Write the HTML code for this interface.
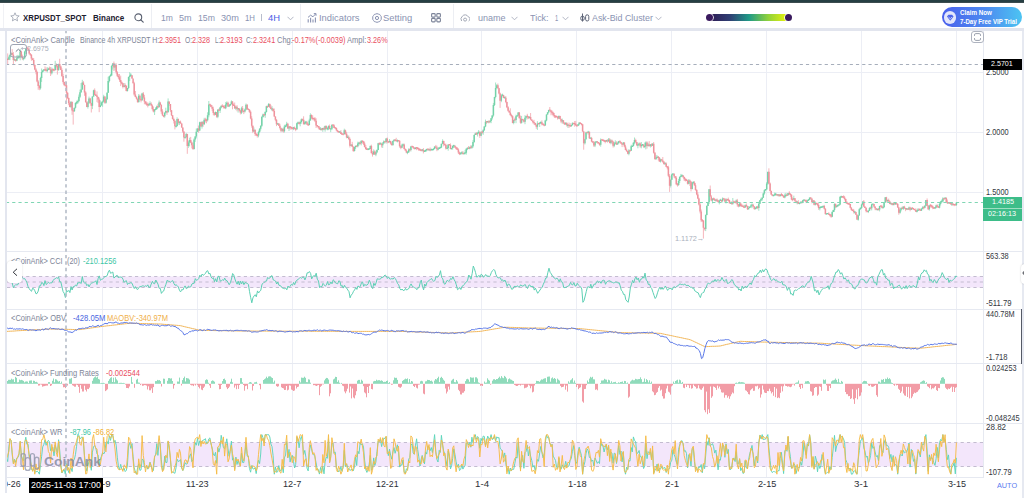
<!DOCTYPE html>
<html><head><meta charset="utf-8">
<style>
*{margin:0;padding:0;box-sizing:border-box}
html,body{width:1024px;height:498px;overflow:hidden;background:#fff;font-family:"Liberation Sans",sans-serif}
.a{position:absolute;white-space:nowrap;line-height:1}
.tb{color:#8a93b2;font-size:9.5px;top:13px}
.lg{font-size:8.6px;color:#7e8597;top:35.8px}
.rd{color:#e9505f}
.ax{font-size:8.2px;color:#333740;left:986px}
.tx{font-size:8.9px;color:#2c2f36;top:479.9px}
</style></head><body>
<div class="a" style="left:0;top:0;width:1024px;height:2px;background:#263f43"></div><div class="a" style="left:0;top:2px;width:1024px;height:1px;background:#3c4c4f"></div>
<div class="a" style="left:3px;top:4px;width:1px;height:24px;background:#f0f1f5"></div>
<div class="a" style="left:151px;top:4px;width:1px;height:24px;background:#eceef3"></div>
<div class="a" style="left:300px;top:4px;width:1px;height:24px;background:#eceef3"></div>
<div class="a" style="left:453px;top:4px;width:1px;height:24px;background:#eceef3"></div>
<div class="a" style="left:0;top:28px;width:1024px;height:3px;background:#e2e5ee"></div>

<svg width="1024" height="498" style="position:absolute;left:0;top:0">
<g stroke="#eceef5" stroke-width="1">
<path d="M102.5 31V478M197.5 31V478M292.5 31V478M387.5 31V478M481.5 31V478M576.5 31V478M671.5 31V478M766.5 31V478M861.5 31V478M956.5 31V478"/>
<path d="M7 72.5H983M7 132.5H983M7 192.5H983"/>
</g>
<g stroke="#e6e9f1" stroke-width="1">
<path d="M7 251.5H1022M7 309.5H1022M7 363.5H1022M7 423.5H1022M7 477.5H983"/>
<path d="M983.5 31V478"/>
</g>
<rect x="1022" y="31" width="2" height="467" fill="#e6e9f1"/>
<rect x="5" y="31" width="2" height="462" fill="#e3e6ef"/>
<rect x="7" y="276.5" width="976" height="11" fill="#f3e6fb"/>
<rect x="7" y="442.5" width="976" height="24" fill="#f3e6fb"/>
<g stroke="#c3bcd0" stroke-width="1" stroke-dasharray="3.2 3.2">
<path d="M7 276.5H983M7 282H983M7 287.5H983M7 442.5H983M7 466.5H983"/>
</g>
</svg>

<svg width="1024" height="498" viewBox="0 0 1024 498" style="position:absolute;left:0;top:0">
<defs><clipPath id="pc"><rect x="7" y="31" width="976" height="447"/></clipPath></defs>
<g clip-path="url(#pc)">
<path d="M6.6 57.3V60.5M8.9 55.6V59.9M10 53.8V60.2M11.1 52.1V55M14.5 58.2V60.4M16.8 55.4V61.2M17.9 54.9V59.1M19 55.1V58.5M20.2 49.2V60.3M23.5 57.9V60.4M24.7 50.7V59.3M25.8 47.8V54.2M40.5 76.8V89.6M41.6 68.5V81.9M42.7 69.8V72.7M43.9 69.4V71.4M47.3 67.2V72.4M48.4 67.7V70.1M51.8 67.5V74.5M55.2 60.8V70.7M58.6 63.6V70.8M71 101V108.1M74.4 107.6V111.8M75.5 102.4V108.5M76.6 100.6V104.4M77.8 99.7V103.9M78.9 94.5V102.2M80 89.6V98.1M81.1 83V92.9M82.3 79.8V89.8M87.9 101.3V108.6M89 96.6V103.9M92.4 96.3V109.1M93.6 89.7V96.7M100.3 100.4V107.3M101.5 101.6V105.8M102.6 100.5V106.8M103.7 94.8V102.2M106 97.8V103.6M107.1 92.3V100M108.2 76.8V92.8M109.4 75.8V82.4M110.5 73.8V76.3M111.6 64.8V75.7M112.8 64.5V69.6M115 63.4V70.3M124.1 83V87.2M127.4 87.9V91.6M128.6 76.5V89.1M129.7 72.2V81M130.8 73.1V76.7M138.7 94.1V102.2M142.1 92.8V100.8M148.9 103V106M150 101.3V104.3M154.6 109.2V115M155.7 107.1V109.8M156.8 105.5V109.8M159.1 100.5V107.3M164.7 112.2V117.7M165.8 107.7V113.7M168.1 98.4V112.4M176 125.7V127.6M177.1 117.3V126.6M179.4 121.5V125.1M185 137V139.1M186.2 132.9V138.1M188.4 140.6V147.9M189.6 137.7V146.4M194.1 138.3V149.5M195.2 136.1V141.9M196.3 128.5V138.4M197.5 128.3V132.1M199.7 121.7V131.2M202 121.1V128.6M204.2 117.8V125.1M207.6 112.3V121.5M208.8 101V117.3M215.5 111.5V115.1M217.8 109.1V118.2M220.1 106.9V113M221.2 105.1V108.4M225.7 102.1V109.2M226.8 101.4V106.5M229.1 104.8V107.1M230.2 103.8V106.1M231.4 100.4V104.2M235.9 106V110.1M238.1 108.3V112.6M241.5 106.7V114.1M244.9 108.5V112.6M246 103.5V110.3M253.9 127.4V132M258.5 130.7V137.3M259.6 128.1V133.2M260.7 125.4V130.6M261.8 115.9V126.8M263 113.6V117.7M265.2 111.2V117.8M266.4 105.8V112.6M268.6 103.1V106.9M272 106.1V111.1M277.7 122.9V124.9M282.2 127.9V131.9M284.4 124.8V132.5M285.6 124.6V127.4M286.7 121.8V126.8M289 125.9V131M293.5 126.9V130.1M296.9 122.6V129.9M298 121.5V123.9M300.2 120.7V126.3M301.4 118.5V123.7M304.8 120.7V124.5M305.9 121V124.1M309.3 118.7V125.4M310.4 113.3V120.7M320.6 127.1V130.4M322.8 127.8V131.8M325.1 125.5V131.7M327.4 127.1V130.3M328.5 125.4V130.1M330.7 128.3V132.2M331.9 124.1V130.1M339.8 131.3V132.4M344.3 128.7V134.8M347.7 135.2V138.1M351.1 144.5V145.9M354.5 146.6V151.5M355.6 145.7V149.1M357.8 141.7V147.4M359 141.9V145.5M361.2 140V145.4M368 148.9V150.2M369.1 148.6V149M370.3 145.4V149.1M373.7 149.4V154.6M375.9 151.3V156.2M377 149.3V153.1M378.2 142.9V150.2M380.4 142.3V144.3M382.7 142.1V147.9M383.8 140.3V143.6M386.1 138.3V143.5M389.5 139.1V142.4M392.9 140.5V145.9M394 139.4V141.9M397.4 139.4V142.4M401.9 143.8V148.2M403 143.5V146.3M407.5 151.1V154.2M408.7 148.3V153M410.9 145.9V151.5M415.4 147.5V149.3M422.2 149.2V151.3M424.5 150.1V151.9M425.6 149.4V151.6M426.7 148.7V151.3M429 148.6V149.8M431.3 148.5V150.1M432.4 149.3V150M433.5 148.4V150.3M434.6 146.4V149M438 147V150.4M439.2 147.5V149M440.3 147.3V148.4M441.4 143.7V148.1M442.6 139.3V144.3M447.1 145.5V149M448.2 144.4V150.7M451.6 147.8V149.5M452.7 145.3V149.6M453.8 144.7V147.8M460.6 152.3V154.7M461.8 151.3V154.3M464 152.4V154.3M465.1 149.9V154.3M466.3 148.3V154.6M467.4 147.4V150.1M469.7 146.5V149.3M471.9 145.1V148.8M473 140.1V147.7M474.2 134.6V142.8M475.3 132.6V135M477.6 131.8V136.5M478.7 130V133.4M481 131.4V136.1M483.2 129.2V134.8M484.3 126.1V130.8M485.5 119.6V127.2M487.7 120.9V122.2M490 120.1V122.4M491.1 118.1V123.2M492.2 115.1V119.7M493.4 102.9V116.7M494.5 96.8V106M495.6 82.5V98.3M496.8 84.1V89.3M501.3 94.3V102.2M502.4 93.6V96.5M504.7 96.3V97.9M513.7 119.6V124.3M516 114.7V123.2M517.1 115.5V116.6M518.2 112.1V116.4M521.6 115.9V123.6M525 115.2V124.2M526.1 115.9V119.6M529.5 116.4V118.2M537.4 121.2V129.9M539.7 122.6V127M540.8 121.8V123.7M545.3 119.8V125.7M546.5 114.4V121.3M547.6 112.2V114.7M548.7 109.7V113.1M558.9 115.4V118.9M562.3 118.6V123.7M565.7 122.3V125.1M567.9 124V127.8M571.3 124.7V126.7M572.4 122.3V125.3M578.1 124V126.1M579.2 122.5V125.4M584.9 138.8V144.5M586 131.7V139.7M588.2 130.8V134.7M590.5 137.6V138.5M595 141.6V147.1M596.1 141.3V142.7M600.7 138.4V146.7M606.3 139.9V141.7M608.6 138V141.5M610.8 139.2V144.3M614.2 141.9V147.2M615.3 140.3V144.5M617.6 141.7V144.7M618.7 140.9V143.4M623.3 142V144.7M628.9 149.1V155.3M631.2 144.7V150.8M632.3 145.9V147M633.4 142.2V146.5M634.5 137.5V144.3M637.9 143.2V148.3M639.1 142.4V145.7M641.3 142V148.3M642.5 144.2V146.1M644.7 142.5V148.1M645.8 141.4V149.4M648.1 142.8V146.6M650.4 144.3V147.5M652.6 143.1V145.9M656 154.9V159.7M657.1 155.3V158.3M660.5 158.6V162.5M665 162V164.1M670.7 179.5V187.5M671.8 173.7V179.8M672.9 173.2V175.1M678.6 178.9V185.8M679.7 176.2V183.1M680.9 173.9V177.4M682 174.2V176.8M688.8 179V184.3M692.1 182.2V189.5M693.3 181.3V183.7M705.7 214.4V231.1M706.8 205.2V215.3M708 202V206M709.1 189V204M712.5 198.1V203.4M715.9 199.6V201.7M719.3 199.8V204.4M720.4 198.8V200.4M722.6 197.4V202.4M726 198.2V203.5M730.5 201.7V203.8M732.8 198V204.8M736.2 199.5V203.6M739.6 202.7V206.8M745.2 204.4V207.6M748.6 206.1V209.5M749.7 206.3V208M750.9 204.2V207.8M752 203.4V208.2M755.4 207V209.2M756.5 206.4V208.8M758.8 201.8V210.7M759.9 200.1V204M761 197.7V201.2M762.2 197.2V200.7M763.3 192.7V197.8M764.4 189.4V194.7M765.6 189.2V190.8M766.7 182.1V189.5M767.8 172V184.8M773.5 194.8V196.1M774.6 192.6V195.6M775.7 192.8V195.7M778 194.2V196.3M780.2 194.3V196.7M784.8 193.6V198.3M785.9 192.9V196.9M788.1 193V195.6M793.8 195.7V199.7M797.2 201.2V204.4M799.4 203V204.4M800.6 201.6V203.5M802.8 199.8V203.1M804 199.2V200.5M807.3 199.8V202.3M808.5 199.4V201M809.6 197.6V200M813 200V202.4M815.3 201.3V205.5M819.8 206.8V210.4M820.9 206.4V207.5M822 206.4V207.3M823.2 205.8V207.7M826.5 213.1V214.5M827.7 213.1V214M832.2 211.2V217.2M833.3 209.7V212.2M834.5 203.2V211.8M836.7 205V207.7M837.8 204.4V206.9M839 204.4V205.5M840.1 196.5V205.2M841.2 195.6V198M854.8 211.8V213.6M858.2 215.1V220.7M859.3 208.4V215.6M860.4 207.4V209.7M861.6 203.7V209M862.7 201.3V205.2M868.3 209.9V213.1M869.5 207.2V211M871.7 203.6V210.4M872.9 204.1V204.6M877.4 208.4V210.2M879.6 205.8V211.4M883 206.2V208.4M884.1 202V207.5M885.3 197.3V202.8M887.5 199.9V202M890.9 202.3V204.3M893.2 203.1V205.5M895.4 203.7V204.5M900 209V213.7M901.1 207.2V211.4M903.3 206V210M906.7 208V209.8M909 206.6V209.9M911.3 207.5V210M916.9 209.5V212.5M918 208.1V211M921.4 208.5V210.8M922.5 206.3V209.3M924.8 205.3V208.3M925.9 200.1V206.3M929.3 204.8V210.6M935 207V209.1M936.1 204.7V208.3M939.5 202.7V208.3M940.6 200.9V205.5M941.7 199.5V202.9M942.9 197.2V201.5M945.1 197.3V199.2M948.5 202.4V203.2M951.9 202.7V206M956.4 202.2V206" stroke="#8edcb9" stroke-width="0.8" fill="none"/><path d="M7.7 53.4V64.1M12.2 49.1V55.4M13.4 52.1V64M15.6 58.9V61.7M21.3 50.7V57.3M22.4 54.6V60.1M26.9 47.1V49.5M28.1 46.7V49.9M29.2 49.2V54.6M30.3 53V56M31.4 54.1V60.8M32.6 57.7V60.3M33.7 58.1V66.4M34.8 64.5V70.2M36 68.2V74.3M37.1 70.8V82.3M38.2 80.1V89.8M39.4 85V90.2M45 66.4V70M46.1 67.4V71.9M49.5 66.6V69.5M50.6 67V76M52.9 68.1V71.4M54 69V71.3M56.3 63.3V67.5M57.4 64.4V74.6M59.7 58.8V68.3M60.8 65.7V70.1M61.9 68.3V76.9M63.1 73.7V83.7M64.2 81.6V86.1M65.3 84.7V86.6M66.5 82V100.7M67.6 92.2V99M68.7 97.5V105.2M69.8 101.2V107.3M72.1 101.4V114.8M73.2 108.1V124.6M83.4 81.1V85M84.5 84.7V95.8M85.7 91.2V102.6M86.8 101.4V107.2M90.2 97.8V103.3M91.3 102.8V112.5M94.7 88.4V94.9M95.8 93.9V95.7M97 91.4V102.1M98.1 96.6V103M99.2 97.6V112.2M104.9 96.4V103.8M113.9 61.5V71M116.2 63.3V73.7M117.3 71.1V77M118.4 74V78.9M119.5 74V81.9M120.7 75.6V86.1M121.8 81.4V84.6M122.9 82.9V88.4M125.2 83.4V88.4M126.3 85.1V91.4M132 75.3V78.7M133.1 81.6V83.4M134.2 81.8V95.8M135.4 91V97.3M136.5 96.2V99.6M137.6 98.5V102.5M139.9 94.5V100.2M141 98.8V102.4M143.3 92V98.8M144.4 94.9V104.3M145.5 101.3V104.5M146.6 101.6V105.8M147.8 102.4V107.4M151.2 102.3V106.1M152.3 104.4V110.4M153.4 106.5V112.4M157.9 103.8V108.2M160.2 101.8V105.3M161.3 104.2V113.8M162.5 109.2V115.7M163.6 115.2V117.3M167 110.5V114.9M169.2 101.6V106M170.4 104V112M171.5 110.1V116M172.6 115.2V119.6M173.8 117.7V123.5M174.9 120V129.4M178.3 118.5V124.7M180.5 120.6V123.7M181.7 123.3V127.8M182.8 127.6V132.8M183.9 131.5V141.7M187.3 133.8V153.8M190.7 136.9V143.2M191.8 141.5V148.4M193 142.8V149.9M198.6 125.5V132.8M200.9 121.7V126.5M203.1 121V126.8M205.4 117.8V122.5M206.5 118.7V123.3M209.9 103.5V105.7M211 104.6V107.3M212.2 105.3V111.1M213.3 106.7V115.3M214.4 112.1V115.7M216.7 112V117.8M218.9 108.6V110.7M222.3 104.2V106.9M223.4 105.2V108.5M224.6 105.2V108.5M228 101.7V106.9M232.5 101.1V109.3M233.6 103.4V105.3M234.7 102.5V108.6M237 105.1V111.3M239.3 108.3V111.5M240.4 109.9V114.4M242.6 106V112.5M243.8 110.4V114.1M247.2 104.2V109.6M248.3 109V109.6M249.4 109.1V112.9M250.6 110.4V119.3M251.7 116.2V127.7M252.8 125.5V133.1M255.1 129.6V135.9M256.2 133.2V136.1M257.3 133.6V137.6M264.1 113.9V116.4M267.5 106.3V108M269.8 103.5V108M270.9 105.1V109.4M273.1 107.9V111.7M274.3 108.5V116.8M275.4 116.4V121.2M276.5 119.2V126.1M278.8 123.3V126M279.9 123.8V129.5M281 127.5V132.3M283.3 127.8V132.7M287.8 122.9V128.8M290.1 126.1V129.7M291.2 126.5V129.6M292.3 127.1V129.5M294.6 126.5V129.5M295.7 128.3V131.2M299.1 121.8V124.6M302.5 119V121M303.6 116.3V124.4M307 120.8V125M308.2 123.2V125.9M311.5 114.4V119.2M312.7 115.3V120.2M313.8 118.1V120.5M314.9 117V122.1M316.1 118.3V128M317.2 125.2V126.4M318.3 125.9V128.6M319.4 126.1V129.6M321.7 128.2V130.6M324 126.7V130.1M326.2 125.3V129.3M329.6 124.5V129.4M333 124.2V127.4M334.1 124.4V128.1M335.3 127.3V128.2M336.4 127.5V131.3M337.5 129.8V132.3M338.6 130.9V132.7M340.9 130.1V134M342 133.8V135M343.2 133.7V135.4M345.4 129.6V134.8M346.6 131.8V138.3M348.8 135.5V140.1M349.9 137.6V147.5M352.2 141.8V146.9M353.3 146.2V151.9M356.7 145.6V146.8M360.1 141.5V144.6M362.4 140.6V143.6M363.5 140.9V145.1M364.6 141.6V147.5M365.8 145V149.8M366.9 148.1V149.9M371.4 144.7V153.2M372.5 151.1V156.6M374.8 150.2V154.7M379.3 142.3V145.2M381.6 142.7V147.5M385 141.3V142.1M387.2 137.5V143.4M388.3 140.8V143.1M390.6 140.7V144.5M391.7 142.1V145.7M395.1 139V140.7M396.2 137.8V141M398.5 140V141.5M399.6 140.3V147.7M400.8 145V149.2M404.2 143.6V149.4M405.3 148.4V150.6M406.4 149.3V153.3M409.8 148.4V151.1M412.1 146.1V147.3M413.2 146V148.7M414.3 147.6V149.5M416.6 147.3V150.2M417.7 147.2V149.5M418.8 147.9V151M420 148.5V150.6M421.1 149.9V151.4M423.4 148.1V153.4M427.9 148.2V150.3M430.1 147.5V151.3M435.8 144.9V147.8M436.9 145.7V151.2M443.7 140.6V146.3M444.8 144.1V145.3M445.9 143.7V149.6M449.3 144.4V145.1M450.5 143.4V149.3M455 145.4V147.6M456.1 146.6V149.5M457.2 147V150.1M458.4 148.3V154.1M459.5 151.6V155.1M462.9 151V154.6M468.5 146.1V149M470.8 145.2V148.6M476.4 132.1V135M479.8 131.3V137.9M482.1 130.9V134.1M486.6 121.1V123.9M488.9 120.2V123.4M497.9 83.5V88.5M499 87.9V94.4M500.1 92.6V107.9M503.5 94.8V98.2M505.8 96.1V103.2M506.9 101.7V108.1M508.1 106.2V111.6M509.2 110.5V112.6M510.3 108.3V115.8M511.4 113.8V117.5M512.6 115.3V123.3M514.8 117.6V120.7M519.3 112V118.5M520.5 115.6V123.7M522.7 118.7V120.4M523.9 119V122.6M527.3 113.8V119.3M528.4 116V119.1M530.6 113V120.3M531.8 119.4V121.2M532.9 120.8V123.5M534 119.8V124.6M535.2 122.7V125.4M536.3 124.5V128.8M538.5 122.9V124M541.9 120.4V125.4M543.1 123.2V125.4M544.2 124.6V126.3M549.8 107V111M551 109.8V115.3M552.1 110.5V114.7M553.2 111.7V116.4M554.4 112.9V118M555.5 115.3V118.1M556.6 115.5V117M557.7 116V119.7M560 115.8V119.4M561.1 118.6V123.2M563.4 120.1V124.1M564.5 122.3V125M566.8 122.2V126.6M569 122.5V128M570.2 123.2V126.9M573.6 123.2V124.4M574.7 121V126.7M575.8 120.9V125.6M576.9 124.7V126.4M580.3 122.4V123.8M581.5 123.4V125.4M582.6 124.2V131.7M583.7 130.9V149.7M587.1 131.8V133.1M589.4 131.5V139M591.6 136.9V142.3M592.8 141.3V143.2M593.9 141V146.9M597.3 141.3V143.6M598.4 142.3V143.4M599.5 142.6V145.7M601.8 139.5V140.1M602.9 138.9V141.1M604.1 139.7V141.9M605.2 140.3V143.3M607.4 139.2V142.7M609.7 138.1V143.4M612 139.6V144M613.1 140.8V147.5M616.5 141.3V145M619.9 140.2V142.3M621 141.8V144M622.1 143.5V147.1M624.4 142.3V147.4M625.5 144.8V150.2M626.6 148.5V151.8M627.8 150.8V154.3M630 149.9V150.9M635.7 138.7V143.4M636.8 141.9V146.1M640.2 142.6V147.7M643.6 144.4V147.8M647 141.3V148.6M649.2 141.1V146.8M651.5 143.4V146.9M653.7 142V153.6M654.9 152V159.3M658.3 156.1V160.4M659.4 157.1V161.8M661.7 158.9V161.5M662.8 157V162.8M663.9 161V164.7M666.2 162.4V167.1M667.3 166V169.4M668.4 165.8V177.2M669.6 174.1V191.9M674.1 173.3V177.8M675.2 176V178.9M676.3 176.2V185.2M677.5 183V186.6M683.1 175V178M684.2 176.6V181M685.4 177.8V181.5M686.5 178.8V180.6M687.6 179.8V184.5M689.9 179.6V186M691 181V191.4M694.4 181.1V185.9M695.5 183.1V190.7M696.7 189V195.3M697.8 192.3V199.1M698.9 197.7V205.5M700.1 203.1V213.4M701.2 209.5V222.1M702.3 219.4V222M703.4 220.2V238.6M704.6 227.7V230.5M710.2 185.5V196.4M711.3 195.1V201.3M713.6 197.6V200.2M714.7 197.9V201M717 198.4V201.9M718.1 199.9V202.7M721.5 199.7V202.1M723.8 197.9V199.6M724.9 198.4V202.1M727.2 198.7V200.2M728.3 197.6V201.2M729.4 199.7V203.3M731.7 201.2V204.8M733.9 200.5V202.3M735.1 201.7V203.4M737.3 198.9V206.7M738.5 204V207.3M740.7 202.4V206.6M741.8 204V206.9M743 204.8V207.2M744.1 205.6V208.1M746.4 203.5V206.6M747.5 205.8V210M753.1 203.9V207.1M754.3 206V209.8M757.7 205.7V209.2M768.9 168.3V184.2M770.1 182.5V191.4M771.2 190.5V194.9M772.3 194.4V196.2M776.9 194V195.5M779.1 194.2V196.9M781.4 192.9V196.2M782.5 194.1V196.4M783.6 195V197.9M787 193.8V195.8M789.3 191.2V194.9M790.4 193.2V196.8M791.5 194.4V200.2M792.7 197.4V201.2M794.9 198.1V201.7M796.1 200.5V203.2M798.3 200.1V203.9M801.7 201.2V203.1M805.1 199.9V201.1M806.2 199.5V203.1M810.7 197.1V199.5M811.9 197.8V203.3M814.1 200.4V205.3M816.4 202.9V204.4M817.5 202.8V206.3M818.6 203.1V209.8M824.3 204.9V209.6M825.4 208.2V214.7M828.8 212.2V214.8M829.9 214.5V216.5M831.1 213.7V217.8M835.6 203.4V208.2M842.4 196.5V197.9M843.5 195.4V198.3M844.6 195.9V200.4M845.7 198.5V203.3M846.9 201.2V203.7M848 202.9V204.6M849.1 202.5V204.9M850.3 203.8V208.4M851.4 207.1V210.7M852.5 209.5V211.1M853.7 208.9V213.5M855.9 211.7V214.8M857 214.3V218.6M863.8 200V207.1M864.9 206.4V208.1M866.1 207.1V212.4M867.2 210.8V212.3M870.6 206.6V209.3M874 203.8V207.6M875.1 206.6V210.2M876.2 208.2V210.2M878.5 208V210.2M880.8 205.1V207.1M881.9 204.8V208.4M886.4 196.8V202.5M888.7 198.6V201.8M889.8 200.8V204.2M892.1 202.7V205.3M894.3 202.9V205.2M896.6 202.6V204.2M897.7 203.2V207.8M898.8 206.8V214.7M902.2 206.5V209.2M904.5 205.8V208.9M905.6 208.1V211.2M907.9 208.2V210.1M910.1 206.8V211.3M912.4 207.4V209.5M913.5 208.1V209.7M914.6 209.1V210.1M915.8 208.3V211.8M919.2 208.5V210.3M920.3 208.9V211M923.7 205.9V209.4M927.1 198.4V206.1M928.2 205.3V210M930.5 204.1V207.5M931.6 204.7V207.9M932.7 205.5V209.2M933.8 207.5V208.9M937.2 204.3V207.8M938.4 206.4V208M944 198V199.7M946.3 197.5V202.6M947.4 199.5V204M949.7 202.1V203.6M950.8 203.4V204.3M953 203.6V205.6M954.2 204.3V206.2M955.3 203.6V205.2" stroke="#f2a3ab" stroke-width="0.8" fill="none"/><path d="M6.6 58.6V60M8.9 57.2V59.8M10 55V57.2M11.1 53.1V55M14.5 59.2V60.6M16.8 58.2V60.7M17.9 56.8V58.2M19 56V57.4M20.2 51.6V56.7M23.5 57.7V59.1M24.7 51.5V58.3M25.8 47.9V51.5M40.5 77.9V88.3M41.6 72V77.9M42.7 70.5V72M43.9 69.3V70.7M47.3 69.5V70.9M48.4 68.6V70M51.8 69.6V73.2M55.2 65V70.1M58.6 63.9V69.9M71 102.1V107M74.4 107.7V111.2M75.5 103V107.7M76.6 102.1V103.5M77.8 100.9V102.6M78.9 96.8V100.9M80 92.2V96.8M81.1 89.4V92.2M82.3 82.6V89.4M87.9 102.8V107.1M89 98.4V102.8M92.4 96.6V105.8M93.6 90.3V96.6M100.3 105.2V107.1M101.5 102.6V105.2M102.6 101.4V102.8M103.7 96.4V101.5M106 99V102.7M107.1 92.7V99M108.2 81V92.7M109.4 76.2V81M110.5 75.1V76.5M111.6 66V75.5M112.8 63.2V66M115 64.9V67.5M124.1 85.4V87M127.4 87.9V91M128.6 77.1V87.9M129.7 75.4V77.1M130.8 74.6V76M138.7 95.7V102.2M142.1 93.4V100.2M148.9 104V105.4M150 103.2V104.6M154.6 109.2V111.4M155.7 108.5V109.9M156.8 106.5V109.1M159.1 102.6V107.2M164.7 112.7V116.3M165.8 111.1V112.7M168.1 101.6V112.3M176 125.5V126.9M177.1 119V126M179.4 121.5V122.9M185 136.7V138.1M186.2 134V137.1M188.4 142.4V146M189.6 140V142.4M194.1 139.6V148.9M195.2 136.6V139.6M196.3 131.8V136.6M197.5 128.5V131.8M199.7 122.2V130.4M202 121.9V126.4M204.2 119.8V124.2M207.6 115.3V120.2M208.8 104.4V115.3M215.5 112.1V114.7M217.8 109.8V116.7M220.1 107.4V110.6M221.2 106V107.4M225.7 104.5V108.2M226.8 102.8V104.5M229.1 105.2V106.6M230.2 104V105.4M231.4 101.4V104.2M235.9 106.7V108.5M238.1 108.1V109.5M241.5 108.3V112.7M244.9 109.5V111.6M246 104.7V109.5M253.9 129.7V131.5M258.5 131.9V135.4M259.6 128.8V131.9M260.7 125.7V128.8M261.8 117V125.7M263 114.4V117M265.2 111.9V115.3M266.4 106.3V111.9M268.6 103.9V106.8M272 108.3V109.7M277.7 123.2V124.6M282.2 128.9V130.8M284.4 126.6V131.3M285.6 125.5V126.9M286.7 123.7V125.8M289 126.4V128.4M293.5 127.3V128.7M296.9 123.2V129.2M298 122.3V123.7M300.2 122V123.7M301.4 119.2V122M304.8 122.2V124.2M305.9 121.5V122.9M309.3 120.6V124.9M310.4 115.1V120.6M320.6 128.4V129.8M322.8 128.1V129.8M325.1 126V129.6M327.4 128V129.4M328.5 126.1V128.5M330.7 128.2V129.6M331.9 125.1V128.8M339.8 131.3V132.7M344.3 130.2V134.1M347.7 136.6V138M351.1 144.5V145.9M354.5 147.1V151.1M355.6 145.8V147.2M357.8 143.4V146.2M359 142.5V143.9M361.2 141.1V143.3M368 148.6V150M369.1 148.3V149.7M370.3 146V148.9M373.7 151.5V154.5M375.9 152.3V154.4M377 150.1V152.3M378.2 143.3V150.1M380.4 143.2V144.6M382.7 143.6V145.2M383.8 141.6V143.6M386.1 138.6V142M389.5 140.9V142.3M392.9 140.9V145.1M394 139.7V141.1M397.4 140V141.4M401.9 145.4V147.8M403 144.3V145.7M407.5 151.7V153.1M408.7 149.5V152.2M410.9 146.4V150.1M415.4 147.6V149M422.2 149.3V150.7M424.5 150.7V152.1M425.6 150V151.4M426.7 148.9V150.3M429 149V150.4M431.3 149.1V150.5M432.4 149V150.4M433.5 148.6V150M434.6 146.5V148.9M438 148.4V149.8M439.2 147.6V149M440.3 146.8V148.2M441.4 143.8V147.4M442.6 141.1V143.8M447.1 147.5V148.9M448.2 144.4V147.9M451.6 147.9V149.3M452.7 145.9V148M453.8 145.1V146.5M460.6 152.8V154.2M461.8 152.2V153.6M464 152.9V154.3M465.1 152.2V153.6M466.3 148.8V152.7M467.4 147.8V149.2M469.7 147.2V148.7M471.9 146.3V147.7M473 142V146.3M474.2 135V142M475.3 133.5V135M477.6 132.8V134.3M478.7 131.8V133.2M481 132.2V135.7M483.2 130.3V132.3M484.3 126.4V130.3M485.5 121.8V126.4M487.7 121.1V122.5M490 120.9V122.3M491.1 118.2V121M492.2 115.4V118.2M493.4 105V115.4M494.5 96.9V105M495.6 88.1V96.9M496.8 85.3V88.1M501.3 95.5V100.8M502.4 94.6V96M504.7 97.1V98.5M513.7 119.9V122.9M516 116.2V120M517.1 115.2V116.6M518.2 112.4V115.6M521.6 119.1V122.7M525 117.8V121.8M526.1 116V117.8M529.5 116.8V118.2M537.4 123.6V126.8M539.7 122.5V123.9M540.8 121.8V123.2M545.3 120.6V125.6M546.5 114.5V120.6M547.6 112.3V114.5M548.7 109.9V112.3M558.9 115.9V118.4M562.3 120.2V121.6M565.7 122.8V124.2M567.9 124.5V125.9M571.3 124.9V126.3M572.4 123.3V125.2M578.1 124.3V125.8M579.2 122.6V124.3M584.9 139.3V143.3M586 132.4V139.3M588.2 131.5V132.9M590.5 137.4V138.8M595 142.2V145.6M596.1 141.2V142.6M600.7 139.7V144.7M606.3 140.1V141.5M608.6 139.5V141.4M610.8 140.6V142.9M614.2 143.5V145.7M615.3 142.4V143.8M617.6 143.2V144.6M618.7 141.2V143.3M623.3 142.6V144.6M628.9 150.6V153.7M631.2 146.3V150.7M632.3 145.5V146.9M633.4 142.8V146.1M634.5 139.9V142.8M637.9 144.3V145.7M639.1 143.4V144.8M641.3 144.8V146.2M642.5 143.9V145.3M644.7 145.7V147.1M645.8 142.4V146.3M648.1 144.5V146M650.4 144.3V145.9M652.6 143.7V145.8M656 157.5V159.2M657.1 156.7V158.1M660.5 159.4V161.5M665 163V164.4M670.7 179.7V185.8M671.8 174.5V179.7M672.9 173.4V174.8M678.6 180.9V184.9M679.7 177V180.9M680.9 175.7V177.1M682 174.9V176.3M688.8 180.6V183.7M692.1 182.5V189M693.3 181.8V183.2M705.7 214.9V228.9M706.8 205.9V214.9M708 202.1V205.9M709.1 189.2V202.1M712.5 198.7V200.6M715.9 199.4V200.8M719.3 200.4V201.9M720.4 199.6V201M722.6 198.4V201.1M726 199.4V201.6M730.5 202.4V203.8M732.8 201.9V203.8M736.2 200.4V202.4M739.6 203.5V206.2M745.2 205.3V207.5M748.6 207.9V209.3M749.7 206.7V208.1M750.9 205.4V206.8M752 204.4V205.8M755.4 207.9V209.3M756.5 206.6V208.2M758.8 203.8V208.1M759.9 200.3V203.8M761 199V200.4M762.2 197.7V199.2M763.3 193.6V197.7M764.4 190.2V193.6M765.6 189.1V190.5M766.7 183.4V189.5M767.8 171.7V183.4M773.5 194.8V196.2M774.6 194.2V195.6M775.7 193.6V195M778 194.2V195.6M780.2 194.6V196M784.8 195.6V197.6M785.9 194.7V196.1M788.1 193V195.3M793.8 198.2V199.6M797.2 201.5V202.9M799.4 202.7V204.1M800.6 201.8V203.2M802.8 200.3V202.9M804 199.5V200.9M807.3 200.2V201.7M808.5 199.3V200.7M809.6 197.6V199.7M813 200.6V202M815.3 203.1V204.8M819.8 207V208.4M820.9 206.6V208M822 206.3V207.7M823.2 205.8V207.2M826.5 213.2V214.6M827.7 212.9V214.3M832.2 212V216.8M833.3 210V212M834.5 204.1V210M836.7 205.7V207.1M837.8 204.9V206.3M839 204.2V205.6M840.1 196.8V204.5M841.2 196.1V197.5M854.8 211.3V212.7M858.2 215.4V219.8M859.3 209.2V215.4M860.4 207.8V209.2M861.6 204.4V207.9M862.7 201.4V204.4M868.3 210.7V212.1M869.5 207.9V210.8M871.7 204.2V208.2M872.9 203.4V204.8M877.4 208.9V210.3M879.6 205.9V209.5M883 206.9V208.3M884.1 202.5V207.3M885.3 197.3V202.5M887.5 199.7V201.1M890.9 202.9V204.3M893.2 203.3V205M895.4 203V204.4M900 209.8V212.7M901.1 208.1V209.8M903.3 206.7V208.7M906.7 208.2V209.6M909 207.4V209.6M911.3 208V209.8M916.9 210.6V212M918 209.4V210.9M921.4 208.6V210.7M922.5 207.4V208.8M924.8 205.8V207.7M925.9 200.1V205.8M929.3 205.4V209.3M935 207.1V208.5M936.1 205.6V207.4M939.5 204V207.7M940.6 201.5V204M941.7 200.8V202.2M942.9 198.4V201.5M945.1 197.6V199M948.5 202.2V203.6M951.9 203.3V204.7M956.4 202.8V205.1" stroke="#74d2a9" stroke-width="1.5" fill="none"/><path d="M7.7 58.7V60.1M12.2 53.1V54.7M13.4 54.7V59.9M15.6 59.6V61M21.3 51.6V57M22.4 57V58.5M26.9 47.5V48.9M28.1 48.4V49.8M29.2 49.8V53.5M30.3 53.4V54.8M31.4 54.8V58.5M32.6 58.5V59.9M33.7 59.9V65M34.8 65V69.6M36 69.6V72M37.1 72V81.6M38.2 81.6V85.9M39.4 85.9V88.3M45 69V70.4M46.1 69.5V70.9M49.5 68.3V69.7M50.6 69.3V73.2M52.9 69V70.4M54 69.3V70.7M56.3 64.9V66.3M57.4 66.1V69.9M59.7 63.9V66.4M60.8 66.4V70.1M61.9 70.1V76M63.1 76V82.1M64.2 82.1V85.1M65.3 84.4V85.8M66.5 85.2V92.8M67.6 92.8V97.9M68.7 97.9V103.2M69.8 103.2V107M72.1 102.1V110.5M73.2 110.2V111.6M83.4 82.6V85M84.5 85V92.4M85.7 92.4V102.3M86.8 102.3V107.1M90.2 98.4V103.3M91.3 103.3V105.8M94.7 90.3V94.9M95.8 94.5V95.9M97 95.4V97M98.1 97V99.5M99.2 99.5V107.1M104.9 96.4V102.7M113.9 63.2V67.5M116.2 64.9V72.2M117.3 72.2V75.7M118.4 75.7V77.3M119.5 77.3V80.1M120.7 80.1V82.6M121.8 82.3V83.7M122.9 83.3V87M125.2 85V86.4M126.3 86.1V91M132 75.3V78.6M133.1 78.6V83.2M134.2 83.2V94.6M135.4 94.6V97M136.5 97V98.7M137.6 98.7V102.2M139.9 95.7V99.2M141 99V100.4M143.3 93.4V97.5M144.4 97.5V101.4M145.5 101.4V103.5M146.6 103.3V104.7M147.8 104.1V105.5M151.2 103.7V105.5M152.3 105.5V109M153.4 109V111.4M157.9 106.1V107.5M160.2 102.6V104.9M161.3 104.9V111.6M162.5 111.6V115.6M163.6 115.3V116.7M167 111V112.4M169.2 101.6V104.1M170.4 104.1V110.2M171.5 110.2V115.3M172.6 115.3V119.1M173.8 119.1V121.1M174.9 121.1V126.3M178.3 119V122.7M180.5 121.8V123.5M181.7 123.5V127.6M182.8 127.6V131.6M183.9 131.6V137.6M187.3 134V146M190.7 140V142.6M191.8 142.6V145.3M193 145.3V148.9M198.6 128.5V130.4M200.9 122.2V126.4M203.1 121.9V124.2M205.4 119.3V120.7M206.5 119.5V120.9M209.9 104V105.4M211 105V107M212.2 107V108.7M213.3 108.7V113M214.4 113V114.7M216.7 112.1V116.7M218.9 109.5V110.9M222.3 105.5V106.9M223.4 105.9V107.3M224.6 106.8V108.2M228 102.8V106.6M232.5 101.4V105.2M233.6 104.5V105.9M234.7 105.2V108.5M237 106.7V109M239.3 108.5V110.5M240.4 110.5V112.7M242.6 108.3V111.2M243.8 110.7V112.1M247.2 104.7V109.2M248.3 108.6V110M249.4 109.4V111.8M250.6 111.8V118.4M251.7 118.4V125.7M252.8 125.7V131.5M255.1 129.7V133.9M256.2 133.8V135.2M257.3 134.5V135.9M264.1 114.1V115.5M267.5 105.8V107.2M269.8 103.9V107.3M270.9 107.3V109M273.1 108.9V110.9M274.3 110.9V116.5M275.4 116.5V119.8M276.5 119.8V124.3M278.8 123.6V125.7M279.9 125.7V128.1M281 128.1V130.8M283.3 128.9V131.3M287.8 123.7V128.4M290.1 126.3V127.7M291.2 127.1V128.5M292.3 127.5V128.9M294.6 127.5V128.9M295.7 128.3V129.7M299.1 122.6V124M302.5 118.8V120.2M303.6 119.8V124.2M307 122.2V124.5M308.2 124V125.4M311.5 115.1V117.8M312.7 117.5V118.9M313.8 117.9V119.3M314.9 118.6V120.8M316.1 120.8V125.5M317.2 125.1V126.5M318.3 126V127.4M319.4 127.4V129.5M321.7 128.6V130M324 128.1V129.6M326.2 126V128.8M329.6 126.1V129.1M333 124.5V125.9M334.1 125.4V127.9M335.3 127.3V128.7M336.4 128.1V130.3M337.5 130.2V131.6M338.6 131.1V132.5M340.9 131.9V133.9M342 133.3V134.7M343.2 133.4V134.8M345.4 130.2V133.8M346.6 133.8V137.4M348.8 137.2V139M349.9 139V145.8M352.2 144.6V146.7M353.3 146.7V151.1M356.7 145.4V146.8M360.1 142.5V143.9M362.4 140.6V142M363.5 141.5V143.4M364.6 143.4V147.1M365.8 147.1V148.9M366.9 148.6V150M371.4 146V153.2M372.5 153.1V154.5M374.8 151.5V154.4M379.3 143V144.4M381.6 143.7V145.2M385 141.1V142.5M387.2 138.6V141.6M388.3 141.2V142.6M390.6 141V143.4M391.7 143.4V145.1M395.1 139.6V141M396.2 140.1V141.5M398.5 139.9V141.3M399.6 140.7V146.3M400.8 146.3V147.8M404.2 144.5V149.1M405.3 149.1V150.6M406.4 150.6V152.6M409.8 149.1V150.5M412.1 145.8V147.2M413.2 146.4V147.8M414.3 147.6V149M416.6 147V148.4M417.7 147.5V148.9M418.8 148.3V149.7M420 149.1V150.5M421.1 149.6V151M423.4 149.7V151.4M427.9 148.8V150.2M430.1 149.1V150.5M435.8 146.4V147.8M436.9 147.8V149.2M443.7 141.1V144.2M444.8 143.8V145.2M445.9 144.9V148.4M449.3 144V145.4M450.5 145V149.1M455 145.8V147.6M456.1 147.3V148.7M457.2 148.3V149.7M458.4 149.5V152.6M459.5 152.6V154M462.9 152.7V154.1M468.5 147.7V149.1M470.8 146.7V148.1M476.4 133.2V134.6M479.8 132.2V135.7M482.1 131.6V133M486.6 121.1V122.5M488.9 121.2V122.6M497.9 85.3V88.2M499 88.2V93.5M500.1 93.5V100.8M503.5 95V97.9M505.8 97.7V101.9M506.9 101.9V107.2M508.1 107.2V110.8M509.2 110.8V112.5M510.3 112.5V114.9M511.4 114.9V116.3M512.6 116.3V122.9M514.8 119.2V120.6M519.3 112.4V118.3M520.5 118.3V122.7M522.7 118.9V120.3M523.9 120.1V121.8M527.3 115.6V117M528.4 116.6V118M530.6 117.1V119.4M531.8 119.4V120.8M532.9 120.8V122.2M534 121.9V123.3M535.2 122.9V125M536.3 125V126.8M538.5 123V124.4M541.9 122.3V124.2M543.1 123.7V125.1M544.2 124.4V125.8M549.8 109.4V110.8M551 110.4V112.3M552.1 111.8V113.2M553.2 112.7V115.3M554.4 115.1V116.5M555.5 115.7V117.1M556.6 116V117.4M557.7 116.7V118.4M560 115.9V119M561.1 119V121.6M563.4 120.2V122.8M564.5 122.8V124.2M566.8 122.9V125.3M569 124.7V126.1M570.2 125.1V126.5M573.6 122.7V124.1M574.7 123V124.4M575.8 123.8V125.5M576.9 125V126.4M580.3 122.5V123.9M581.5 123.3V124.7M582.6 124.3V131.6M583.7 131.6V143.3M587.1 131.9V133.3M589.4 131.7V138.2M591.6 138V141.4M592.8 141.2V142.6M593.9 142.4V145.6M597.3 141.2V142.6M598.4 142V143.4M599.5 143V144.7M601.8 139.2V140.6M602.9 139.5V140.9M604.1 140.1V141.5M605.2 140.5V141.9M607.4 140.2V141.6M609.7 139.5V142.9M612 140.5V141.9M613.1 141.7V145.7M616.5 142.8V144.5M619.9 140.9V142.3M621 142.1V143.5M622.1 143.3V144.7M624.4 142.6V146.6M625.5 146.6V150M626.6 149.8V151.2M627.8 151V153.7M630 150V151.4M635.7 139.9V142M636.8 142V145.3M640.2 143.6V146.2M643.6 144.5V146.5M647 142.4V146M649.2 144.5V145.9M651.5 144.3V145.8M653.7 143.7V152.8M654.9 152.8V159.2M658.3 156.6V158M659.4 157.4V161.5M661.7 159.2V160.6M662.8 160.4V161.8M663.9 161.8V163.9M666.2 163.6V166.7M667.3 166.3V167.7M668.4 167.3V175.8M669.6 175.8V185.8M674.1 173.7V176.3M675.2 176.3V177.8M676.3 177.8V184.2M677.5 183.8V185.2M683.1 175.4V177M684.2 177V179.2M685.4 179V180.4M686.5 179.6V181M687.6 180.5V183.7M689.9 180.5V181.9M691 181.7V189M694.4 182.4V185.3M695.5 185.3V189.9M696.7 189.9V194.6M697.8 194.6V198.5M698.9 198.5V204.4M700.1 204.4V211.6M701.2 211.6V220.2M702.3 219.6V221M703.4 220.4V227.8M704.6 227.7V229.1M710.2 189.2V196.4M711.3 196.4V200.6M713.6 198.3V199.7M714.7 199.2V200.6M717 199.6V201M718.1 200.6V202M721.5 199.9V201.3M723.8 198.2V199.6M724.9 199.3V201.6M727.2 199V200.4M728.3 199.3V200.7M729.4 200.1V203.2M731.7 202.7V204.1M733.9 201.3V202.7M735.1 201.6V203M737.3 200.4V204.6M738.5 204.6V206.2M740.7 203.5V205.9M741.8 205.2V206.6M743 205.7V207.1M744.1 206.6V208M746.4 205.1V206.5M747.5 206.2V209.3M753.1 204.7V206.4M754.3 206.4V209.1M757.7 206.6V208.1M768.9 171.7V183.5M770.1 183.5V190.9M771.2 190.9V194.5M772.3 194.4V195.8M776.9 194.1V195.5M779.1 194.4V196M781.4 194.1V195.5M782.5 194.7V196.1M783.6 196V197.6M787 194.5V195.9M789.3 192.8V194.2M790.4 193.7V195.1M791.5 194.8V199.4M792.7 198.8V200.2M794.9 198.2V200.7M796.1 200.7V202.5M798.3 201.9V203.8M801.7 201.8V203.2M805.1 199.8V201.2M806.2 200.6V202M810.7 197.4V198.8M811.9 198.7V201.9M814.1 200.6V204.8M816.4 202.8V204.2M817.5 203.7V205.1M818.6 205V208M824.3 206V208.7M825.4 208.7V214.1M828.8 213.4V214.8M829.9 214.1V215.5M831.1 214.8V216.8M835.6 204.1V206.8M842.4 196.1V197.5M843.5 196.4V197.8M844.6 197.4V199.1M845.7 199.1V202.7M846.9 202.3V203.7M848 202.9V204.3M849.1 203.3V204.7M850.3 204.1V207.7M851.4 207.7V210M852.5 209.6V211M853.7 210.6V212M855.9 211.9V214.7M857 214.7V219.8M863.8 201.4V206.4M864.9 206.4V208M866.1 208V210.9M867.2 210.7V212.1M870.6 207.4V208.8M874 204.1V206.6M875.1 206.6V208.3M876.2 208.3V209.8M878.5 208.8V210.2M880.8 205.4V206.8M881.9 206.3V207.8M886.4 197.3V200.7M888.7 200V201.5M889.8 201.5V204M892.1 203.2V205M894.3 202.8V204.2M896.6 203.2V204.6M897.7 204.1V207.4M898.8 207.4V212.7M902.2 207.7V209.1M904.5 206.7V208.3M905.6 208.1V209.5M907.9 208.4V209.8M910.1 207.4V209.8M912.4 207.5V208.9M913.5 208.1V209.5M914.6 208.9V210.3M915.8 210V211.7M919.2 208.8V210.2M920.3 209.4V210.8M923.7 206.9V208.3M927.1 200.1V205.8M928.2 205.8V209.3M930.5 204.8V206.2M931.6 205.3V206.7M932.7 206.3V207.8M933.8 207.3V208.7M937.2 205.3V206.7M938.4 206.3V207.7M944 198V199.4M946.3 197.7V202M947.4 201.8V203.2M949.7 202.3V203.7M950.8 203.1V204.5M953 203.5V204.9M954.2 203.9V205.3M955.3 204.2V205.6" stroke="#ef939d" stroke-width="1.5" fill="none"/>
<polyline points="6.6,276.2 7.7,279.2 8.9,277.4 10,281.4 11.1,281.3 12.2,283 13.4,287.7 14.5,285.8 15.6,284.7 16.8,284.9 17.9,284.7 19,281.6 20.2,281 21.3,277.3 22.4,277.6 23.5,278.7 24.7,278.6 25.8,280.4 26.9,282.5 28.1,286.8 29.2,288.6 30.3,290.2 31.5,291.3 32.6,288.2 33.7,288.8 34.8,290.7 36,293.8 37.1,293.4 38.2,291.1 39.4,285.8 40.5,285.9 41.6,282.7 42.8,282.9 43.9,285.6 45,280.6 46.2,284.5 47.3,283.6 48.4,282.4 49.5,283.2 50.7,282.8 51.8,282.9 52.9,280.5 54.1,279.4 55.2,278.8 56.3,277.7 57.5,278.4 58.6,276.8 59.7,281.8 60.8,281.8 62,287 63.1,291.6 64.2,293.2 65.4,297.5 66.5,290.1 67.6,291.7 68.8,290.4 69.9,292.6 71,286.6 72.1,290 73.3,286.6 74.4,286.5 75.5,285 76.7,285.9 77.8,282.6 78.9,283 80,282.5 81.2,283.5 82.3,276.5 83.4,282 84.6,283 85.7,282.8 86.8,285.7 88,284.4 89.1,286.9 90.2,284.4 91.3,283.3 92.5,282.8 93.6,282.3 94.7,282 95.9,280.7 97,284.5 98.1,278.6 99.3,275.9 100.4,280.3 101.5,279.4 102.6,279.2 103.8,277.5 104.9,276.7 106,276.4 107.2,275.6 108.3,271.9 109.4,270.2 110.6,273.3 111.7,272.7 112.8,272 113.9,278 115.1,277.1 116.2,275.7 117.3,275.4 118.5,278 119.6,276.9 120.7,277.1 121.9,277.3 123,279.3 124.1,282.4 125.2,281.2 126.4,280.7 127.5,284.5 128.6,283.4 129.8,283.3 130.9,282.6 132,283.2 133.2,286.2 134.3,288.5 135.4,286.6 136.5,288.9 137.7,289.5 138.8,287.6 139.9,286.7 141.1,286.6 142.2,285.9 143.3,285.9 144.5,286.4 145.6,285.8 146.7,286.4 147.8,284.8 149,287.5 150.1,287 151.2,284.1 152.4,281.3 153.5,283.4 154.6,283.8 155.8,280 156.9,282 158,284.2 159.1,288.2 160.3,288.4 161.4,293.4 162.5,291.7 163.7,291 164.8,287.2 165.9,284.4 167.1,280.3 168.2,281.1 169.3,281.3 170.4,282.2 171.6,281.3 172.7,280.6 173.8,283.3 175,285.3 176.1,284.8 177.2,285.6 178.4,287 179.5,290.5 180.6,291.9 181.7,289.5 182.9,290 184,287.5 185.1,285.9 186.3,288.7 187.4,288.1 188.5,286 189.7,287.1 190.8,286.8 191.9,284 193,283.4 194.2,283.3 195.3,278.6 196.4,280.3 197.6,279.8 198.7,278.6 199.8,275.2 201,276.6 202.1,274.1 203.2,275.3 204.3,274.6 205.5,273.3 206.6,271.2 207.7,270.7 208.9,274 210,273.3 211.1,277 212.3,278.5 213.4,277.7 214.5,281.7 215.6,278.7 216.8,281.9 217.9,276.4 219,276.3 220.2,281.1 221.3,280.8 222.4,279.8 223.6,280.4 224.7,278.1 225.8,280.4 226.9,280.6 228.1,282.5 229.2,284.7 230.3,282.8 231.5,279.1 232.6,273.5 233.7,274.7 234.9,279 236,282 237.1,284.2 238.2,281.2 239.4,285 240.5,281 241.6,283.9 242.8,281.3 243.9,284.7 245,282.6 246.2,283 247.3,283.4 248.4,284.4 249.5,291.4 250.7,297.7 251.8,302.8 252.9,297.9 254.1,295.9 255.2,294.7 256.3,296.8 257.5,290.9 258.6,293 259.7,291.3 260.8,290.3 262,284.2 263.1,283.4 264.2,282.3 265.4,281.3 266.5,281.1 267.6,277.4 268.8,278.5 269.9,278 271,276 272.1,275.8 273.3,280 274.4,280.4 275.5,281 276.7,284 277.8,282 278.9,285.2 280.1,285.6 281.2,286.3 282.3,288 283.4,288.4 284.6,288.7 285.7,288.1 286.8,289.8 288,286.1 289.1,287.4 290.2,286.2 291.4,284.3 292.5,285.3 293.6,282.4 294.7,284.7 295.9,281.3 297,280.1 298.1,279.4 299.3,278.3 300.4,277.5 301.5,278.2 302.7,277.4 303.8,277.1 304.9,279.9 306,277.2 307.2,272.8 308.3,272.9 309.4,271.5 310.6,273.4 311.7,278.9 312.8,276.4 314,275.7 315.1,276.2 316.2,273.2 317.3,279.2 318.5,281 319.6,287.7 320.7,286.4 321.9,286.7 323,283.4 324.1,284.7 325.3,286.1 326.4,285.1 327.5,281.6 328.6,284.9 329.8,284.3 330.9,281.9 332,283.8 333.2,279.8 334.3,280.8 335.4,282.8 336.6,283.5 337.7,283.8 338.8,280.8 339.9,281.4 341.1,286.2 342.2,285.4 343.3,288.1 344.5,285.3 345.6,287.4 346.7,288.1 347.9,290.1 349,291.7 350.1,297.8 351.2,295.1 352.4,293.8 353.5,291.3 354.6,289.9 355.8,287.4 356.9,289.4 358,285.9 359.2,287 360.3,286.5 361.4,283 362.5,281.8 363.7,286.3 364.8,284.3 365.9,285.3 367.1,285 368.2,283.8 369.3,280.2 370.5,282.8 371.6,287.5 372.7,288.6 373.8,283.2 375,285.5 376.1,282.8 377.2,278.8 378.4,279.1 379.5,279.2 380.6,278.9 381.8,276.9 382.9,277.6 384,276 385.1,275 386.3,276 387.4,278.5 388.5,276.8 389.7,278.9 390.8,279.1 391.9,278.5 393.1,279.1 394.2,277.5 395.3,278.5 396.4,280.6 397.6,283.6 398.7,284.8 399.8,288.5 401,290.1 402.1,289 403.2,290.5 404.4,290.3 405.5,288.4 406.6,290.2 407.7,289 408.9,288.6 410,285.7 411.1,283.9 412.3,286.4 413.4,286.7 414.5,287.8 415.7,288 416.8,289.7 417.9,288.2 419,287.4 420.2,282.8 421.3,280.1 422.4,286.2 423.6,289.9 424.7,284 425.8,286.2 427,282.3 428.1,281.2 429.2,280.3 430.3,279.6 431.5,278.4 432.6,280.4 433.7,281.3 434.9,280.5 436,276.3 437.1,277.6 438.3,276.2 439.4,274.9 440.5,270.7 441.6,277.3 442.8,278.9 443.9,283.4 445,284.3 446.2,282.2 447.3,280.2 448.4,281.3 449.6,280.6 450.7,278.3 451.8,279.4 452.9,276.6 454.1,279.5 455.2,281.6 456.3,284.7 457.5,289.7 458.6,289 459.7,287.4 460.9,289.5 462,286.3 463.1,285.8 464.2,284.6 465.4,282.7 466.5,282.1 467.6,280.2 468.8,275 469.9,276.8 471,279.2 472.2,273.4 473.3,266 474.4,268.7 475.5,272.4 476.7,277.1 477.8,276.7 478.9,275.3 480.1,277.3 481.2,274.2 482.3,275 483.5,277.3 484.6,276.1 485.7,274.5 486.8,276.3 488,275.8 489.1,276.7 490.2,275.6 491.4,272.4 492.5,270.6 493.6,269.6 494.8,270.3 495.9,274.5 497,276.6 498.1,278 499.3,277.7 500.4,277.9 501.5,280.5 502.7,279.8 503.8,281.6 504.9,280 506.1,282.8 507.2,286.4 508.3,284 509.4,284.4 510.6,286.8 511.7,289.3 512.8,289 514,286.5 515.1,286.3 516.2,286.8 517.4,285.7 518.5,287.1 519.6,286.6 520.7,284.8 521.9,285.9 523,286.2 524.1,285.2 525.3,284.6 526.4,287.3 527.5,288.5 528.7,285.3 529.8,284.9 530.9,286.8 532,286.4 533.2,286.4 534.3,290.1 535.4,288.1 536.6,290.9 537.7,293.3 538.8,291.7 540,290 541.1,288.4 542.2,287.2 543.3,284.3 544.5,281.7 545.6,278.1 546.7,278 547.9,272.3 549,268.2 550.1,272.3 551.3,273.9 552.4,276 553.5,276.9 554.6,278.4 555.8,279.1 556.9,278.1 558,279.2 559.2,281.7 560.3,278.8 561.4,282 562.6,282.3 563.7,287.5 564.8,287.6 565.9,287.3 567.1,286.7 568.2,286 569.3,285.5 570.5,282.4 571.6,284.5 572.7,285 573.9,282.5 575,285.9 576.1,286 577.2,283.2 578.4,285.1 579.5,286.2 580.6,286.8 581.8,289 582.9,302.3 584,300.6 585.2,296 586.3,291.4 587.4,287.1 588.5,286.7 589.7,288 590.8,284.2 591.9,288.3 593.1,286 594.2,284 595.3,284.5 596.5,281.9 597.6,280.9 598.7,282.7 599.8,281.4 601,283.3 602.1,280.9 603.2,280.2 604.4,280.5 605.5,284.3 606.6,282 607.8,281.3 608.9,280.9 610,280.9 611.1,281.8 612.3,282.3 613.4,282.9 614.5,282.6 615.7,282 616.8,282.1 617.9,283.2 619.1,282.6 620.2,285.9 621.3,290.2 622.4,291.3 623.6,294.5 624.7,294.4 625.8,299.7 627,301.1 628.1,302.3 629.2,297 630.4,287.6 631.5,284.2 632.6,280.4 633.7,282.9 634.9,278.8 636,277 637.1,279.8 638.3,278 639.4,282.3 640.5,279.3 641.7,279.1 642.8,276.8 643.9,278.2 645,273.1 646.2,280.1 647.3,281 648.4,284.6 649.6,284.2 650.7,287.4 651.8,288.7 653,292.4 654.1,295.6 655.2,298.5 656.3,296.9 657.5,292.8 658.6,289.6 659.7,287.3 660.9,289.4 662,287.6 663.1,289.4 664.3,287.7 665.4,286 666.5,288.4 667.6,290.4 668.8,288.5 669.9,288.6 671,288.2 672.2,289.9 673.3,287.2 674.4,286.8 675.6,287.7 676.7,286.3 677.8,286 678.9,284.5 680.1,283.9 681.2,284.6 682.3,284.3 683.5,285.1 684.6,283.8 685.7,285.2 686.9,285.6 688,285.2 689.1,286.1 690.2,287.2 691.4,287.2 692.5,288.2 693.6,287.9 694.8,290.9 695.9,291.5 697,292.4 698.2,292.8 699.3,295.5 700.4,297.6 701.5,293.9 702.7,292.7 703.8,292.4 704.9,289.1 706.1,287.8 707.2,284.6 708.3,283 709.5,283.7 710.6,283.1 711.7,282.1 712.8,280.7 714,281.6 715.1,279.3 716.2,281.6 717.4,279.8 718.5,280 719.6,280.8 720.8,280.3 721.9,277.4 723,279.7 724.1,281.4 725.3,280.3 726.4,279.4 727.5,283.5 728.7,283.1 729.8,282.4 730.9,280.6 732.1,279.5 733.2,281.4 734.3,284.7 735.4,285.3 736.6,287.1 737.7,287 738.8,290 740,289 741.1,291 742.2,286.1 743.4,288.6 744.5,287.2 745.6,286 746.7,287.8 747.9,285.8 749,284.4 750.1,283 751.3,284.6 752.4,281.3 753.5,279.4 754.7,275.6 755.8,276.8 756.9,274.9 758,273.1 759.2,272.8 760.3,270 761.4,272.6 762.6,269.6 763.7,271.9 764.8,269.6 766,268.9 767.1,270.1 768.2,273.6 769.3,275.5 770.5,279.2 771.6,280.6 772.7,279.7 773.9,278.6 775,280.5 776.1,279.8 777.3,280.7 778.4,282 779.5,282.2 780.6,282.5 781.8,281.3 782.9,284.8 784,284.8 785.2,285.2 786.3,286.8 787.4,290.4 788.6,287.7 789.7,289 790.8,294.1 791.9,293.7 793.1,295.4 794.2,290.7 795.3,290 796.5,290.4 797.6,289.6 798.7,288.5 799.9,288.1 801,286.9 802.1,286 803.2,285.9 804.4,287.5 805.5,285.8 806.6,283.5 807.8,282.5 808.9,281.7 810,280.8 811.2,276.3 812.3,280 813.4,284.1 814.5,290.8 815.7,289.8 816.8,292.6 817.9,290.2 819.1,294.9 820.2,292.5 821.3,290.6 822.5,288.9 823.6,288.1 824.7,288.1 825.8,287.8 827,287.1 828.1,285.7 829.2,289.4 830.4,285.2 831.5,283 832.6,282.2 833.8,278.1 834.9,275 836,272 837.1,272.1 838.3,269.5 839.4,271.2 840.5,274.2 841.7,272.7 842.8,275.6 843.9,279.1 845.1,277.8 846.2,279.6 847.3,281.2 848.4,279.8 849.6,283.3 850.7,283.5 851.8,284.3 853,287 854.1,288.7 855.2,288.9 856.4,286.1 857.5,285.9 858.6,283.8 859.7,280.5 860.9,279.5 862,278.8 863.1,279.7 864.3,279.9 865.4,282.4 866.5,283.1 867.7,281.9 868.8,279.4 869.9,277.7 871,277.3 872.2,276.5 873.3,279.4 874.4,282.9 875.6,282.2 876.7,285.2 877.8,276.6 879,274.3 880.1,271.9 881.2,269.8 882.3,269.7 883.5,275.1 884.6,273.5 885.7,278.2 886.9,278.4 888,280.4 889.1,279.9 890.3,285.5 891.4,283.4 892.5,283.7 893.6,288.8 894.8,287 895.9,287.6 897,286.8 898.2,285.8 899.3,285 900.4,286.8 901.6,289.2 902.7,287.6 903.8,286.8 904.9,288.5 906.1,285.6 907.2,288.6 908.3,286.6 909.5,285.3 910.6,287.2 911.7,286.9 912.9,285.5 914,286.2 915.1,287.1 916.2,287.5 917.4,283.1 918.5,277.1 919.6,280 920.8,274.6 921.9,272.9 923,272.5 924.2,269.8 925.3,271.3 926.4,270.4 927.5,274.1 928.7,274.8 929.8,280.9 930.9,279.3 932.1,281.7 933.2,282.6 934.3,279.5 935.5,281.4 936.6,283.2 937.7,281.1 938.8,278.7 940,278 941.1,275.9 942.2,272.6 943.4,274.9 944.5,277.8 945.6,278.9 946.8,279.6 947.9,278.1 949,282.4 950.1,280 951.3,281 952.4,280.4 953.5,279.4 954.7,278.4 955.8,276 956.9,276.6" fill="none" stroke="#5dd0b4" stroke-width="1"/>
<polyline points="6.6,331.4 8.6,331.3 10.6,331.2 12.6,331.1 14.6,331 16.6,330.8 18.6,330.7 20.6,330.6 22.6,330.5 24.6,330.4 26.6,330.3 28.6,330.2 30.6,330.1 32.6,330 34.6,329.8 36.6,329.7 38.6,329.6 40.6,329.5 42.6,329.4 44.6,329.3 46.6,329.2 48.6,329.1 50.6,329 52.6,329.1 54.6,329.1 56.6,329.1 58.6,329.2 60.6,329.2 62.6,329.3 64.6,329.3 66.6,329.3 68.6,329.4 70.6,329.4 72.6,329.5 74.6,329.5 76.6,329.5 78.6,329.6 80.6,329.5 82.6,329.2 84.6,328.9 86.6,328.6 88.6,328.4 90.6,328.1 92.6,327.8 94.6,327.5 96.6,327.2 98.6,326.9 100.6,326.6 102.6,326.4 104.6,326.2 106.6,325.9 108.6,325.7 110.6,325.5 112.6,325.2 114.6,325 116.6,324.8 118.6,324.5 120.6,324.3 122.6,324.1 124.6,323.8 126.6,323.6 128.6,323.4 130.6,323.2 132.6,323.3 134.6,323.3 136.6,323.4 138.6,323.4 140.6,323.5 142.6,323.5 144.6,323.6 146.6,323.6 148.6,323.7 150.6,323.7 152.6,323.8 154.6,323.9 156.6,323.9 158.6,324 160.6,324 162.6,324.2 164.6,324.4 166.6,324.5 168.6,324.7 170.6,324.8 172.6,325 174.6,325.2 176.6,325.3 178.6,325.5 180.6,325.7 182.6,326.2 184.6,326.7 186.6,327.2 188.6,327.6 190.6,328.1 192.6,328.6 194.6,329 196.6,329.5 198.6,330 200.6,330.3 202.6,330.3 204.6,330.4 206.6,330.4 208.6,330.5 210.6,330.5 212.6,330.5 214.6,330.6 216.6,330.6 218.6,330.6 220.6,330.7 222.6,330.7 224.6,330.7 226.6,330.8 228.6,330.8 230.6,330.8 232.6,330.9 234.6,330.9 236.6,330.9 238.6,331 240.6,331 242.6,331 244.6,331 246.6,331 248.6,331 250.6,331 252.6,331 254.6,331.1 256.6,331.1 258.6,331.1 260.6,331.1 262.6,331.1 264.6,331.1 266.6,331.1 268.6,331.1 270.6,331.1 272.6,331.1 274.6,331.1 276.6,331.1 278.6,331.1 280.6,331.1 282.6,331.2 284.6,331.2 286.6,331.2 288.6,331.2 290.6,331.2 292.6,331.2 294.6,331.2 296.6,331.2 298.6,331.2 300.6,331.2 302.6,331.2 304.6,331.2 306.6,331.2 308.6,331.2 310.6,331.3 312.6,331.3 314.6,331.3 316.6,331.3 318.6,331.3 320.6,331.3 322.6,331.3 324.6,331.3 326.6,331.3 328.6,331.3 330.6,331.3 332.6,331.3 334.6,331.3 336.6,331.4 338.6,331.4 340.6,331.4 342.6,331.4 344.6,331.4 346.6,331.4 348.6,331.4 350.6,331.4 352.6,331.4 354.6,331.4 356.6,331.4 358.6,331.4 360.6,331.4 362.6,331.4 364.6,331.4 366.6,331.4 368.6,331.4 370.6,331.4 372.6,331.4 374.6,331.4 376.6,331.4 378.6,331.4 380.6,331.4 382.6,331.4 384.6,331.4 386.6,331.4 388.6,331.4 390.6,331.4 392.6,331.4 394.6,331.4 396.6,331.4 398.6,331.4 400.6,331.4 402.6,331.5 404.6,331.5 406.6,331.6 408.6,331.7 410.6,331.7 412.6,331.8 414.6,331.9 416.6,331.9 418.6,332 420.6,332.1 422.6,332.1 424.6,332.2 426.6,332.3 428.6,332.3 430.6,332.4 432.6,332.4 434.6,332.5 436.6,332.6 438.6,332.6 440.6,332.7 442.6,332.8 444.6,332.8 446.6,332.9 448.6,333 450.6,333 452.6,332.9 454.6,332.8 456.6,332.6 458.6,332.5 460.6,332.4 462.6,332.3 464.6,332.2 466.6,332.1 468.6,332 470.6,331.9 472.6,331.8 474.6,331.7 476.6,331.6 478.6,331.5 480.6,331.3 482.6,331 484.6,330.6 486.6,330.3 488.6,330 490.6,329.6 492.6,329.3 494.6,328.9 496.6,328.6 498.6,328.3 500.6,327.9 502.6,327.6 504.6,327.3 506.6,327.3 508.6,327.3 510.6,327.4 512.6,327.4 514.6,327.5 516.6,327.6 518.6,327.6 520.6,327.7 522.6,327.8 524.6,327.8 526.6,327.9 528.6,328 530.6,328 532.6,328 534.6,328.1 536.6,328.1 538.6,328.1 540.6,328.1 542.6,328.2 544.6,328.2 546.6,328.2 548.6,328.2 550.6,328.2 552.6,328.3 554.6,328.3 556.6,328.3 558.6,328.3 560.6,328.4 562.6,328.4 564.6,328.4 566.6,328.4 568.6,328.5 570.6,328.5 572.6,328.5 574.6,328.5 576.6,328.6 578.6,328.6 580.6,328.7 582.6,328.9 584.6,329.1 586.6,329.3 588.6,329.5 590.6,329.7 592.6,329.9 594.6,330.1 596.6,330.3 598.6,330.5 600.6,330.7 602.6,330.9 604.6,331.1 606.6,331.3 608.6,331.5 610.6,331.7 612.6,331.9 614.6,332.1 616.6,332.3 618.6,332.5 620.6,332.6 622.6,332.6 624.6,332.7 626.6,332.7 628.6,332.8 630.6,332.8 632.6,332.8 634.6,332.9 636.6,332.9 638.6,332.9 640.6,333 642.6,333 644.6,333 646.6,333.1 648.6,333.1 650.6,333.1 652.6,333.2 654.6,333.2 656.6,333.2 658.6,333.3 660.6,333.4 662.6,333.8 664.6,334.3 666.6,334.7 668.6,335.1 670.6,335.5 672.6,335.9 674.6,336.4 676.6,336.8 678.6,337.2 680.6,337.6 682.6,338 684.6,338.5 686.6,338.9 688.6,339.3 690.6,339.9 692.6,340.8 694.6,341.8 696.6,342.7 698.6,343.7 700.6,344.6 702.6,345.6 704.6,346.5 706.6,346.6 708.6,346.5 710.6,346.4 712.6,346.3 714.6,346.3 716.6,346.2 718.6,346.1 720.6,345.9 722.6,345.4 724.6,344.9 726.6,344.4 728.6,344 730.6,343.5 732.6,343 734.6,342.6 736.6,342.1 738.6,341.6 740.6,341.3 742.6,341.4 744.6,341.5 746.6,341.5 748.6,341.6 750.6,341.7 752.6,341.7 754.6,341.8 756.6,341.9 758.6,342 760.6,342 762.6,342.1 764.6,342.1 766.6,342.1 768.6,342.2 770.6,342.2 772.6,342.3 774.6,342.3 776.6,342.3 778.6,342.4 780.6,342.4 782.6,342.5 784.6,342.5 786.6,342.5 788.6,342.6 790.6,342.6 792.6,342.7 794.6,342.7 796.6,342.7 798.6,342.8 800.6,342.8 802.6,342.9 804.6,342.9 806.6,342.9 808.6,343 810.6,343 812.6,343.1 814.6,343.1 816.6,343.1 818.6,343.2 820.6,343.2 822.6,343.3 824.6,343.5 826.6,343.6 828.6,343.7 830.6,343.8 832.6,343.9 834.6,344 836.6,344.2 838.6,344.3 840.6,344.4 842.6,344.5 844.6,344.6 846.6,344.7 848.6,344.8 850.6,345 852.6,345.1 854.6,345.2 856.6,345.3 858.6,345.4 860.6,345.5 862.6,345.6 864.6,345.7 866.6,345.8 868.6,345.9 870.6,346 872.6,346.1 874.6,346.2 876.6,346.3 878.6,346.4 880.6,346.5 882.6,346.6 884.6,346.6 886.6,346.7 888.6,346.8 890.6,346.9 892.6,347 894.6,347.1 896.6,347.2 898.6,347.3 900.6,347.4 902.6,347.5 904.6,347.6 906.6,347.7 908.6,347.8 910.6,347.9 912.6,348 914.6,348 916.6,348.1 918.6,348.2 920.6,348.2 922.6,348 924.6,347.8 926.6,347.6 928.6,347.4 930.6,347.2 932.6,346.9 934.6,346.7 936.6,346.5 938.6,346.3 940.6,346.1 942.6,345.9 944.6,345.6 946.6,345.4 948.6,345.2 950.6,345 952.6,344.8 954.6,344.6 956.6,344.3" fill="none" stroke="#f2b75a" stroke-width="1"/>
<polyline points="6.6,328.2 7.7,328.2 8.9,328.9 10,327.9 11.1,328.7 12.2,328 13.4,329.2 14.5,328.9 15.6,329.3 16.8,328.7 17.9,329.1 19,328.9 20.2,328.8 21.3,329.2 22.4,328.8 23.5,329.2 24.7,329.6 25.8,329.5 26.9,329.5 28.1,330.5 29.2,329.8 30.3,329.7 31.5,330 32.6,329.9 33.7,330.1 34.8,330.2 36,330.9 37.1,330.1 38.2,330 39.4,330 40.5,330.4 41.6,329.5 42.8,329.2 43.9,330.2 45,328.7 46.2,328.9 47.3,329.1 48.4,329.6 49.5,328.3 50.7,327.8 51.8,328.9 52.9,328.5 54.1,328.6 55.2,328.9 56.3,328.9 57.5,329 58.6,328.7 59.7,329.4 60.8,329.5 62,329 63.1,329.3 64.2,330.1 65.4,330.5 66.5,330.4 67.6,331.1 68.8,332 69.9,331.9 71,332.2 72.1,332.6 73.3,331.8 74.4,331.2 75.5,329.8 76.7,330.4 77.8,329.2 78.9,328.5 80,328.9 81.2,328.5 82.3,328.2 83.4,328.3 84.6,328.5 85.7,327.7 86.8,327.9 88,327.8 89.1,326.5 90.2,326.5 91.3,326.8 92.5,325.8 93.6,326.2 94.7,326.6 95.9,326.4 97,326.1 98.1,325.1 99.3,326.5 100.4,325.7 101.5,325.4 102.6,325 103.8,323.8 104.9,323.6 106,323.3 107.2,324 108.3,322.7 109.4,322.6 110.6,322.5 111.7,322.8 112.8,322.9 113.9,322.9 115.1,322.4 116.2,321.8 117.3,323.1 118.5,323.2 119.6,323.6 120.7,323.1 121.9,322.9 123,323.1 124.1,322.4 125.2,322.5 126.4,322.4 127.5,322.8 128.6,323.3 129.8,322.8 130.9,323.1 132,323 133.2,323.2 134.3,323.2 135.4,323.4 136.5,322.9 137.7,323.5 138.8,323.7 139.9,324.7 141.1,324.7 142.2,324.9 143.3,325.1 144.5,324.5 145.6,325 146.7,325.4 147.8,324.8 149,325.2 150.1,324.8 151.2,324.4 152.4,325.1 153.5,324.9 154.6,325.3 155.8,325.1 156.9,325.5 158,324.7 159.1,326.3 160.3,326.1 161.4,325.5 162.5,325.3 163.7,325.6 164.8,325.8 165.9,325.7 167.1,325.7 168.2,324.9 169.3,325.2 170.4,326.2 171.6,326.1 172.7,325.8 173.8,326.4 175,326.5 176.1,327 177.2,328.1 178.4,328.2 179.5,329.8 180.6,330.6 181.7,331.2 182.9,332.6 184,334.8 185.1,334.6 186.3,333.7 187.4,333.7 188.5,332.5 189.7,331.6 190.8,331.8 191.9,330.6 193,331.2 194.2,330.6 195.3,330.3 196.4,330.4 197.6,331 198.7,330.4 199.8,329.7 201,329.8 202.1,330.7 203.2,330.4 204.3,329.6 205.5,330.8 206.6,329.7 207.7,329.3 208.9,329.6 210,329.9 211.1,330.3 212.3,330.3 213.4,329.9 214.5,330 215.6,329.9 216.8,330.5 217.9,330.5 219,331 220.2,330.5 221.3,330.8 222.4,330.6 223.6,330.4 224.7,330.4 225.8,330.4 226.9,330.3 228.1,330.9 229.2,330.7 230.3,330.2 231.5,330.8 232.6,330.7 233.7,331 234.9,330.4 236,330.4 237.1,330.2 238.2,330.4 239.4,330.5 240.5,330.4 241.6,330.4 242.8,330.8 243.9,330.7 245,330.9 246.2,330.6 247.3,331.2 248.4,330.8 249.5,331 250.7,331.5 251.8,332.3 252.9,332 254.1,331.8 255.2,331.8 256.3,332 257.5,332 258.6,331.8 259.7,331.1 260.8,331 262,330.7 263.1,330.5 264.2,330.1 265.4,330.2 266.5,329.6 267.6,330.1 268.8,330.7 269.9,330.3 271,330.9 272.1,330.4 273.3,330.8 274.4,331.1 275.5,330.7 276.7,330.9 277.8,332.1 278.9,331.1 280.1,331.2 281.2,331.3 282.3,331.5 283.4,331.6 284.6,332 285.7,332 286.8,331.6 288,331.7 289.1,331.3 290.2,331.3 291.4,331.5 292.5,332 293.6,331.7 294.7,331.8 295.9,331.8 297,331.3 298.1,332 299.3,331 300.4,330.8 301.5,330.8 302.7,331.3 303.8,330.7 304.9,330.4 306,330.8 307.2,330.9 308.3,330.4 309.4,330.3 310.6,330.7 311.7,330.7 312.8,330.6 314,330 315.1,330.4 316.2,330.4 317.3,329.7 318.5,330.7 319.6,330.3 320.7,330.2 321.9,331.1 323,330.4 324.1,330 325.3,330.3 326.4,330.5 327.5,330.6 328.6,330.3 329.8,330 330.9,330.1 332,330.2 333.2,330.2 334.3,330.6 335.4,330.6 336.6,330.8 337.7,330.6 338.8,330.7 339.9,331 341.1,331.1 342.2,331.7 343.3,331 344.5,331.5 345.6,331.5 346.7,331.2 347.9,332 349,331.9 350.1,331.2 351.2,332.3 352.4,332.7 353.5,332.3 354.6,333.4 355.8,333 356.9,332.7 358,333.6 359.2,333.4 360.3,333.3 361.4,333.2 362.5,334.3 363.7,334.1 364.8,334.8 365.9,334.9 367.1,334.8 368.2,334.4 369.3,334.8 370.5,334.4 371.6,333.6 372.7,332.8 373.8,332.2 375,332 376.1,332.3 377.2,331.5 378.4,330.8 379.5,330 380.6,330.4 381.8,330 382.9,330.4 384,330.7 385.1,330.9 386.3,330.6 387.4,330.4 388.5,330.7 389.7,331.3 390.8,330.8 391.9,330.2 393.1,331.3 394.2,330.9 395.3,332.1 396.4,330.7 397.6,330.9 398.7,330.8 399.8,331.1 401,330.8 402.1,330.6 403.2,330.5 404.4,331.2 405.5,331.1 406.6,331.1 407.7,332.1 408.9,331.7 410,331.8 411.1,331.3 412.3,331.7 413.4,331.5 414.5,331.6 415.7,332 416.8,332 417.9,331.9 419,331.9 420.2,331.4 421.3,331.7 422.4,332.1 423.6,331.9 424.7,331.8 425.8,332.3 427,331.9 428.1,332 429.2,332.6 430.3,332.3 431.5,332.9 432.6,332.7 433.7,332.8 434.9,333 436,331.9 437.1,332.7 438.3,332.3 439.4,332.6 440.5,332.8 441.6,333.4 442.8,332.9 443.9,333.6 445,332.9 446.2,333.1 447.3,333.2 448.4,333.6 449.6,333.3 450.7,333 451.8,333.1 452.9,332.7 454.1,333.6 455.2,333.3 456.3,333.2 457.5,333 458.6,332.7 459.7,332.7 460.9,333.1 462,332.5 463.1,332.4 464.2,333.2 465.4,333 466.5,332.1 467.6,331.7 468.8,331.1 469.9,331 471,329.9 472.2,329.6 473.3,329.6 474.4,329.8 475.5,329.1 476.7,329.1 477.8,328.7 478.9,328.5 480.1,328.4 481.2,328.6 482.3,328.8 483.5,328.1 484.6,328.1 485.7,328.1 486.8,328.3 488,328.4 489.1,327.6 490.2,327.9 491.4,326.6 492.5,326.3 493.6,324.8 494.8,323.8 495.9,324.2 497,324.9 498.1,325.1 499.3,326 500.4,326.5 501.5,326.7 502.7,327.1 503.8,327.6 504.9,327.4 506.1,327.9 507.2,328.2 508.3,327.8 509.4,329 510.6,328.7 511.7,328.7 512.8,328.8 514,329 515.1,329 516.2,329 517.4,328.6 518.5,329.1 519.6,329 520.7,328.6 521.9,328.8 523,329 524.1,328.9 525.3,328.9 526.4,328.7 527.5,329 528.7,329.4 529.8,328.8 530.9,328.1 532,329.3 533.2,328.6 534.3,328.4 535.4,328.1 536.6,329.2 537.7,329.5 538.8,329.5 540,329.1 541.1,329.8 542.2,329.4 543.3,329.3 544.5,329.6 545.6,329.1 546.7,327.9 547.9,327 549,326.1 550.1,327.6 551.3,327 552.4,327.6 553.5,327.3 554.6,327.8 555.8,327.9 556.9,327.6 558,328.4 559.2,328.7 560.3,328.2 561.4,327.9 562.6,328.4 563.7,328.3 564.8,328.6 565.9,328.6 567.1,329.2 568.2,328.8 569.3,328.5 570.5,328.7 571.6,327.6 572.7,328.3 573.9,328.3 575,328.6 576.1,329 577.2,329.2 578.4,329.7 579.5,329.5 580.6,330.1 581.8,330.2 582.9,330.5 584,330.9 585.2,330.9 586.3,331.4 587.4,331.5 588.5,332.2 589.7,332 590.8,332.4 591.9,333.5 593.1,333.1 594.2,333.3 595.3,333.6 596.5,332.8 597.6,333.3 598.7,333.2 599.8,333 601,333.1 602.1,332.9 603.2,332.9 604.4,332.2 605.5,332.5 606.6,332 607.8,332.5 608.9,332.1 610,331.4 611.1,332.1 612.3,331.8 613.4,332.6 614.5,332.3 615.7,331.7 616.8,332.5 617.9,333.1 619.1,333 620.2,332.8 621.3,333.3 622.4,333.4 623.6,333.8 624.7,333.8 625.8,333.7 627,333.4 628.1,333.9 629.2,333.8 630.4,333.6 631.5,333.6 632.6,332.9 633.7,333.4 634.9,333.1 636,333.1 637.1,332.9 638.3,332.7 639.4,332.7 640.5,332.9 641.7,332.5 642.8,332.7 643.9,332.3 645,332.7 646.2,332.6 647.3,332.2 648.4,333 649.6,332.3 650.7,332.6 651.8,332.1 653,332.4 654.1,333.6 655.2,333.4 656.3,333.6 657.5,334.6 658.6,334.6 659.7,335.5 660.9,336.5 662,336 663.1,336.5 664.3,336.9 665.4,337 666.5,337.1 667.6,338.8 668.8,340.1 669.9,342 671,342.4 672.2,342.3 673.3,343.3 674.4,343.6 675.6,344.2 676.7,344.6 677.8,345.3 678.9,344.5 680.1,345.3 681.2,345.4 682.3,345.4 683.5,345.9 684.6,345.8 685.7,346 686.9,345.5 688,345.8 689.1,346.2 690.2,346.2 691.4,346.2 692.5,346.5 693.6,346.5 694.8,346.3 695.9,348.1 697,348.2 698.2,349.6 699.3,350.6 700.4,353.4 701.5,358.6 702.7,357.7 703.8,353.3 704.9,348.4 706.1,344.6 707.2,341.8 708.3,340.6 709.5,340.8 710.6,340.9 711.7,341.2 712.8,340.8 714,342.1 715.1,341.6 716.2,341.5 717.4,340.9 718.5,339.9 719.6,340.5 720.8,340 721.9,340.3 723,340 724.1,340.2 725.3,339.5 726.4,339.6 727.5,339.6 728.7,339.7 729.8,340.4 730.9,341.3 732.1,342.4 733.2,342.2 734.3,343.1 735.4,342.8 736.6,343 737.7,343.3 738.8,343.4 740,342.8 741.1,343.4 742.2,343.3 743.4,343.7 744.5,343.5 745.6,343.4 746.7,343.1 747.9,343.3 749,342.9 750.1,342.9 751.3,342.6 752.4,342.8 753.5,342.8 754.7,343.2 755.8,343 756.9,342 758,342.1 759.2,341.8 760.3,341.6 761.4,340.8 762.6,340.5 763.7,339.9 764.8,340 766,339.8 767.1,341.2 768.2,341.1 769.3,343.3 770.5,343.5 771.6,342.5 772.7,343 773.9,342.7 775,342.6 776.1,343.1 777.3,342.9 778.4,343.6 779.5,343 780.6,342.8 781.8,343.2 782.9,343.3 784,343.5 785.2,343.4 786.3,342.7 787.4,342.9 788.6,343.1 789.7,342.9 790.8,343.5 791.9,343.1 793.1,343.2 794.2,343.1 795.3,343.2 796.5,342.7 797.6,343.9 798.7,343 799.9,342.9 801,342.6 802.1,343.2 803.2,342.7 804.4,343.3 805.5,343.6 806.6,343.4 807.8,343 808.9,343.6 810,343.1 811.2,343.3 812.3,343.5 813.4,343.5 814.5,343.9 815.7,343.5 816.8,343.5 817.9,344.6 819.1,344.1 820.2,344.4 821.3,344.8 822.5,344.6 823.6,344.5 824.7,345 825.8,344.9 827,345.6 828.1,345.3 829.2,345 830.4,344.9 831.5,343.7 832.6,343.4 833.8,343.7 834.9,343.5 836,342.7 837.1,342 838.3,342.5 839.4,342.5 840.5,343 841.7,342.3 842.8,343.1 843.9,343.1 845.1,343.4 846.2,344.2 847.3,344.6 848.4,344.4 849.6,344.8 850.7,345.9 851.8,346.4 853,346.9 854.1,347.9 855.2,348.5 856.4,348.4 857.5,347.9 858.6,347.6 859.7,347 860.9,345.7 862,345.2 863.1,345.2 864.3,344.7 865.4,345.5 866.5,345.1 867.7,345.3 868.8,343.9 869.9,344.3 871,345 872.2,343.8 873.3,343.7 874.4,344.4 875.6,344.8 876.7,344.5 877.8,344 879,344.5 880.1,344.4 881.2,344.4 882.3,344.4 883.5,344.6 884.6,344.7 885.7,344.9 886.9,345.1 888,344.9 889.1,344.6 890.3,345.7 891.4,345.3 892.5,346.8 893.6,345.9 894.8,345.9 895.9,346.2 897,347.2 898.2,347.5 899.3,347.9 900.4,347.9 901.6,347.6 902.7,348.3 903.8,347.8 904.9,347.6 906.1,348.5 907.2,348.5 908.3,348 909.5,348.3 910.6,348.9 911.7,348.9 912.9,348.3 914,349.1 915.1,347.9 916.2,348.9 917.4,349.1 918.5,348.7 919.6,348.2 920.8,347.1 921.9,347 923,346.7 924.2,345.6 925.3,345.5 926.4,345.3 927.5,344.4 928.7,344.8 929.8,345.1 930.9,344.2 932.1,344.7 933.2,344.6 934.3,343.9 935.5,344.1 936.6,344.3 937.7,344.1 938.8,343.3 940,343.9 941.1,343.4 942.2,343.2 943.4,343.5 944.5,343 945.6,342.9 946.8,343.3 947.9,343.3 949,343.7 950.1,343.3 951.3,342.9 952.4,344.2 953.5,344.1 954.7,344.2 955.8,344.2 956.9,344.3" fill="none" stroke="#5a78e8" stroke-width="1"/>
<path d="M7.5 381V383.8M8.5 379.8V383.8M9.5 379.8V383.8M10.5 379.9V383.8M11.5 378.7V383.8M12.5 379.5V383.8M13.5 379.3V383.8M14.5 382V383.8M15.5 376.9V383.8M16.5 377.8V383.8M17.5 382.4V383.8M18.5 382.2V383.8M19.5 379.6V383.8M20.5 380.2V383.8M21.5 379.9V383.8M22.5 380.3V383.8M23.5 380.9V383.8M24.5 382.4V383.8M25.5 381.6V383.8M26.5 381.4V383.8M27.5 381.6V383.8M28.5 383.1V383.8M29.5 380.7V383.8M30.5 380.5V383.8M31.5 380.4V383.8M32.5 383.1V383.8M33.5 380.7V383.8M34.5 380.9V383.8M35.5 382.1V383.8M36.5 381.8V383.8M37.5 382.6V383.8M48.5 382.1V383.8M49.5 382.1V383.8M52.5 380.8V383.8M53.5 378.5V383.8M54.5 382.3V383.8M55.5 379.2V383.8M56.5 379.5V383.8M57.5 380.6V383.8M58.5 381.6V383.8M59.5 381V383.8M60.5 383.1V383.8M61.5 381.6V383.8M69.5 378.7V383.8M70.5 378.7V383.8M71.5 377.9V383.8M92.5 380.8V383.8M93.5 378.3V383.8M94.5 377.2V383.8M95.5 376.4V383.8M96.5 377.6V383.8M97.5 376.7V383.8M98.5 379V383.8M99.5 379.5V383.8M100.5 383.2V383.8M101.5 382.9V383.8M102.5 383V383.8M103.5 382.8V383.8M104.5 383.2V383.8M108.5 380.9V383.8M109.5 379.2V383.8M110.5 377.8V383.8M111.5 377.2V383.8M112.5 382V383.8M113.5 377.7V383.8M114.5 382.2V383.8M115.5 377.3V383.8M116.5 379.3V383.8M117.5 380.5V383.8M118.5 383.3V383.8M119.5 382.9V383.8M120.5 382.8V383.8M121.5 382.8V383.8M122.5 383V383.8M123.5 382.9V383.8M124.5 383.2V383.8M131.5 376.9V383.8M132.5 382.4V383.8M136.5 379.7V383.8M137.5 378.8V383.8M138.5 382.5V383.8M139.5 382.7V383.8M155.5 381.1V383.8M156.5 381.1V383.8M157.5 379.9V383.8M158.5 380.3V383.8M159.5 380.1V383.8M160.5 381.1V383.8M163.5 378.6V383.8M164.5 378.8V383.8M167.5 380.8V383.8M168.5 378.1V383.8M169.5 378.1V383.8M170.5 378.6V383.8M171.5 378.3V383.8M172.5 381V383.8M177.5 381.5V383.8M178.5 381.6V383.8M179.5 377.6V383.8M182.5 380.1V383.8M183.5 378.1V383.8M184.5 376.6V383.8M185.5 381.5V383.8M186.5 378V383.8M187.5 378.3V383.8M188.5 378.5V383.8M189.5 379.6V383.8M205.5 380.2V383.8M206.5 379.3V383.8M207.5 379.8V383.8M208.5 382.7V383.8M211.5 381.1V383.8M212.5 380.4V383.8M213.5 380.8V383.8M214.5 381.7V383.8M222.5 381.1V383.8M223.5 379V383.8M224.5 378.6V383.8M225.5 380.2V383.8M230.5 381.8V383.8M231.5 378.7V383.8M232.5 382.3V383.8M240.5 378.1V383.8M241.5 378.1V383.8M242.5 382.3V383.8M248.5 383.4V383.8M249.5 382.3V383.8M250.5 382V383.8M251.5 382.6V383.8M254.5 382.4V383.8M255.5 382.2V383.8M256.5 381.8V383.8M257.5 383.5V383.8M263.5 380V383.8M264.5 379.2V383.8M265.5 378.4V383.8M266.5 376.7V383.8M267.5 378.1V383.8M268.5 376.5V383.8M269.5 376.3V383.8M270.5 376.4V383.8M271.5 377.4V383.8M272.5 378V383.8M273.5 382.4V383.8M274.5 380.6V383.8M299.5 380.8V383.8M300.5 382.4V383.8M301.5 377.6V383.8M302.5 377.8V383.8M303.5 377.8V383.8M304.5 376.7V383.8M305.5 377.8V383.8M306.5 382.1V383.8M307.5 382.2V383.8M308.5 379.3V383.8M309.5 379.6V383.8M310.5 382.7V383.8M324.5 380.4V383.8M325.5 378.8V383.8M326.5 377.9V383.8M327.5 378.1V383.8M328.5 379.5V383.8M333.5 379.4V383.8M334.5 378.6V383.8M335.5 376.8V383.8M336.5 377V383.8M337.5 381.9V383.8M338.5 380.3V383.8M339.5 382.7V383.8M340.5 383.6V383.8M341.5 382.9V383.8M357.5 380.7V383.8M358.5 379.9V383.8M359.5 379.9V383.8M360.5 382.6V383.8M361.5 379.7V383.8M362.5 380.8V383.8M373.5 381.4V383.8M374.5 380.9V383.8M375.5 381V383.8M376.5 379.7V383.8M377.5 380.5V383.8M378.5 380.2V383.8M379.5 380.2V383.8M380.5 380.8V383.8M381.5 380.3V383.8M382.5 380.9V383.8M383.5 382.1V383.8M384.5 381.8V383.8M385.5 381.9V383.8M386.5 381V383.8M387.5 380.5V383.8M388.5 383V383.8M389.5 382.1V383.8M393.5 380.3V383.8M394.5 377.5V383.8M395.5 377.9V383.8M396.5 377.8V383.8M397.5 379.9V383.8M402.5 380.9V383.8M403.5 380.1V383.8M404.5 379.4V383.8M405.5 378.6V383.8M406.5 379.1V383.8M407.5 378.4V383.8M408.5 382.5V383.8M409.5 379V383.8M410.5 382.7V383.8M411.5 381V383.8M412.5 381.5V383.8M420.5 381.3V383.8M421.5 380.8V383.8M422.5 381.3V383.8M425.5 381.4V383.8M426.5 381.2V383.8M427.5 379.8V383.8M428.5 380V383.8M429.5 380.1V383.8M430.5 381V383.8M431.5 380.6V383.8M432.5 381.7V383.8M434.5 380.6V383.8M435.5 379V383.8M436.5 379.5V383.8M437.5 378.1V383.8M438.5 376.7V383.8M439.5 382.1V383.8M440.5 377.8V383.8M441.5 376.8V383.8M442.5 378.1V383.8M443.5 379.7V383.8M444.5 380.8V383.8M451.5 380.6V383.8M452.5 379.5V383.8M453.5 378.8V383.8M454.5 382.1V383.8M455.5 382.3V383.8M456.5 380V383.8M457.5 381.5V383.8M465.5 381.1V383.8M466.5 379.3V383.8M467.5 378.8V383.8M468.5 379.5V383.8M469.5 381.8V383.8M470.5 377.2V383.8M471.5 377.6V383.8M472.5 377.7V383.8M473.5 377.5V383.8M474.5 382.1V383.8M475.5 377.3V383.8M476.5 377.3V383.8M477.5 378.5V383.8M478.5 382.4V383.8M479.5 382.9V383.8M484.5 381.5V383.8M485.5 382.8V383.8M486.5 382.5V383.8M487.5 378.3V383.8M488.5 379.8V383.8M489.5 380.7V383.8M492.5 380.7V383.8M493.5 379.3V383.8M494.5 379.2V383.8M495.5 380V383.8M496.5 379V383.8M497.5 379.1V383.8M498.5 377.9V383.8M499.5 376.7V383.8M500.5 378.3V383.8M501.5 376.1V383.8M502.5 377.6V383.8M503.5 378.2V383.8M504.5 375.9V383.8M505.5 376.8V383.8M506.5 378.4V383.8M507.5 381.9V383.8M508.5 379.2V383.8M509.5 378.4V383.8M510.5 379.4V383.8M511.5 379.8V383.8M512.5 380.6V383.8M513.5 381V383.8M535.5 383.2V383.8M536.5 380.8V383.8M537.5 381V383.8M538.5 381.1V383.8M539.5 381.8V383.8M540.5 380.5V383.8M541.5 379.4V383.8M542.5 379.6V383.8M543.5 378.8V383.8M544.5 378.4V383.8M545.5 378.2V383.8M546.5 382.1V383.8M547.5 376.8V383.8M548.5 376.6V383.8M549.5 376.5V383.8M550.5 381.7V383.8M551.5 378.3V383.8M552.5 377.4V383.8M553.5 378.8V383.8M554.5 378V383.8M555.5 378.9V383.8M556.5 382.5V383.8M557.5 378.6V383.8M558.5 379.7V383.8M559.5 380.6V383.8M568.5 381.3V383.8M569.5 382.7V383.8M570.5 380.3V383.8M571.5 379.5V383.8M572.5 378.2V383.8M573.5 382.5V383.8M574.5 380.5V383.8M575.5 382.9V383.8M587.5 380.5V383.8M588.5 382.2V383.8M589.5 378.6V383.8M590.5 376.8V383.8M591.5 377.6V383.8M592.5 376.8V383.8M593.5 379.3V383.8M594.5 379.4V383.8M600.5 383V383.8M601.5 380.5V383.8M602.5 380.5V383.8M603.5 380.3V383.8M604.5 378.8V383.8M605.5 379.5V383.8M606.5 379.7V383.8M607.5 382.2V383.8M608.5 379.7V383.8M609.5 380.3V383.8M610.5 382.9V383.8M611.5 381.3V383.8M612.5 382.8V383.8M613.5 382.2V383.8M614.5 382.1V383.8M615.5 381.8V383.8M616.5 383.1V383.8M617.5 383.2V383.8M618.5 382.3V383.8M619.5 382.8V383.8M620.5 382V383.8M621.5 381.9V383.8M622.5 381.5V383.8M623.5 383V383.8M624.5 380.9V383.8M625.5 381.1V383.8M626.5 383.2V383.8M627.5 382.5V383.8M630.5 381.5V383.8M631.5 380.5V383.8M632.5 379.7V383.8M633.5 380.3V383.8M634.5 380.2V383.8M635.5 378.8V383.8M636.5 379.2V383.8M637.5 379.4V383.8M638.5 379.1V383.8M639.5 379V383.8M640.5 377.3V383.8M641.5 379.2V383.8M642.5 382.2V383.8M643.5 381.8V383.8M644.5 378.5V383.8M645.5 382V383.8M646.5 379.1V383.8M647.5 380.2V383.8M648.5 382.4V383.8M649.5 380.3V383.8M650.5 382.9V383.8M651.5 381.6V383.8M673.5 381.6V383.8M674.5 383.1V383.8M675.5 381V383.8M676.5 380.4V383.8M677.5 379.7V383.8M678.5 382.7V383.8M679.5 379.6V383.8M680.5 380.3V383.8M681.5 382.9V383.8M682.5 381.9V383.8M735.5 382.9V383.8M736.5 382.6V383.8M737.5 383.2V383.8M738.5 382.2V383.8M739.5 381.8V383.8M740.5 382.3V383.8M741.5 382.1V383.8M742.5 382.2V383.8M743.5 382.4V383.8M744.5 382.8V383.8M795.5 382.9V383.8M796.5 382.5V383.8M797.5 382.4V383.8M798.5 380.5V383.8M804.5 383.4V383.8M805.5 381.4V383.8M806.5 381.4V383.8M807.5 381V383.8M808.5 381.1V383.8M809.5 382.4V383.8M823.5 379.5V383.8M824.5 380.2V383.8M825.5 379.5V383.8M831.5 381.4V383.8M832.5 380.5V383.8M833.5 380.3V383.8M834.5 379.8V383.8M835.5 378.5V383.8M836.5 379.9V383.8M837.5 382.2V383.8M838.5 378.8V383.8M839.5 382.4V383.8M840.5 382.9V383.8M841.5 380.9V383.8M842.5 381.8V383.8M862.5 382.4V383.8M863.5 381.2V383.8M864.5 380.8V383.8M865.5 381.1V383.8M866.5 381.3V383.8M867.5 383.3V383.8M878.5 381.5V383.8M879.5 381.7V383.8M880.5 382.7V383.8M881.5 379.6V383.8M882.5 379.9V383.8M883.5 379V383.8M884.5 382V383.8M885.5 378.7V383.8M886.5 379.1V383.8M887.5 377.5V383.8M888.5 379V383.8M889.5 378.2V383.8M890.5 379.4V383.8M891.5 382.6V383.8M892.5 383V383.8M920.5 382.3V383.8M921.5 381.7V383.8M922.5 380.9V383.8M923.5 380.4V383.8M924.5 380.8V383.8M925.5 383.1V383.8M926.5 382.2V383.8M940.5 380.5V383.8M941.5 377.9V383.8M942.5 377.2V383.8M943.5 377.4V383.8M944.5 378.9V383.8" stroke="#8fdbbb" stroke-width="1" fill="none"/><path d="M38.5 383.8V385.6M39.5 383.8V385.5M40.5 383.8V384.4M41.5 383.8V384.7M42.5 383.8V386.7M43.5 383.8V386.3M44.5 383.8V386.1M45.5 383.8V385.8M46.5 383.8V385.6M47.5 383.8V385.6M50.5 383.8V386M51.5 383.8V385.4M62.5 383.8V384.4M63.5 383.8V387.3M64.5 383.8V387.1M65.5 383.8V388.1M66.5 383.8V384.7M67.5 383.8V385.6M72.5 383.8V385.3M73.5 383.8V385.8M74.5 383.8V386.7M75.5 383.8V386.7M76.5 383.8V384.6M77.5 383.8V385.1M78.5 383.8V386.9M79.5 383.8V392.8M80.5 383.8V385.1M81.5 383.8V388.8M82.5 383.8V391.5M83.5 383.8V391.5M84.5 383.8V385.7M85.5 383.8V389.8M86.5 383.8V391.5M87.5 383.8V388.9M88.5 383.8V389.1M89.5 383.8V387.6M105.5 383.8V391.1M106.5 383.8V390.3M107.5 383.8V389.3M125.5 383.8V384.6M126.5 383.8V388M127.5 383.8V388M128.5 383.8V388.3M129.5 383.8V386.5M134.5 383.8V387.8M140.5 383.8V385.1M141.5 383.8V384.2M142.5 383.8V385.8M143.5 383.8V385.6M144.5 383.8V385.1M145.5 383.8V385.2M146.5 383.8V385.6M147.5 383.8V389.5M148.5 383.8V386.3M149.5 383.8V390.3M150.5 383.8V390.3M151.5 383.8V388.4M152.5 383.8V392.9M153.5 383.8V387.1M161.5 383.8V386.5M173.5 383.8V388.7M174.5 383.8V385.2M181.5 383.8V385.5M190.5 383.8V384.8M191.5 383.8V385.4M192.5 383.8V385.3M193.5 383.8V386.1M194.5 383.8V384.4M195.5 383.8V385.5M196.5 383.8V384.2M197.5 383.8V385.1M198.5 383.8V386.9M199.5 383.8V388.4M200.5 383.8V385.5M201.5 383.8V389.6M202.5 383.8V390.2M203.5 383.8V387.9M204.5 383.8V386.6M209.5 383.8V385.4M210.5 383.8V387.9M218.5 383.8V384.8M219.5 383.8V389.3M220.5 383.8V389M221.5 383.8V384.9M226.5 383.8V387.3M227.5 383.8V389.1M228.5 383.8V388M229.5 383.8V386.6M234.5 383.8V387.6M235.5 383.8V385.4M236.5 383.8V389.2M237.5 383.8V385.1M238.5 383.8V388.9M239.5 383.8V385M243.5 383.8V385M244.5 383.8V390.7M245.5 383.8V386.1M246.5 383.8V385.6M247.5 383.8V389.2M252.5 383.8V390.5M253.5 383.8V385.9M259.5 383.8V385.2M260.5 383.8V389.3M276.5 383.8V386.1M277.5 383.8V386.8M278.5 383.8V386.3M281.5 383.8V387.3M282.5 383.8V388M283.5 383.8V388.4M284.5 383.8V390M285.5 383.8V389.9M286.5 383.8V386M287.5 383.8V390.4M288.5 383.8V389.7M289.5 383.8V385.4M290.5 383.8V385.7M291.5 383.8V389.6M292.5 383.8V390.2M293.5 383.8V391M294.5 383.8V390.5M295.5 383.8V385.5M296.5 383.8V388.5M297.5 383.8V387M298.5 383.8V386.6M313.5 383.8V385.2M314.5 383.8V385.1M315.5 383.8V385.6M316.5 383.8V386M317.5 383.8V385.4M318.5 383.8V385M319.5 383.8V395.2M320.5 383.8V386.8M321.5 383.8V385.8M322.5 383.8V384.3M323.5 383.8V384.4M329.5 383.8V396.3M330.5 383.8V393.3M342.5 383.8V385.6M343.5 383.8V386.2M344.5 383.8V391.5M345.5 383.8V393.3M346.5 383.8V391.3M347.5 383.8V388.7M349.5 383.8V392.6M350.5 383.8V386.5M351.5 383.8V398.4M352.5 383.8V388.5M353.5 383.8V397.5M354.5 383.8V398.4M355.5 383.8V395.3M356.5 383.8V391.2M363.5 383.8V386.2M364.5 383.8V392.4M365.5 383.8V393.4M366.5 383.8V397.3M367.5 383.8V387M368.5 383.8V393M369.5 383.8V385.8M371.5 383.8V389M372.5 383.8V389.4M390.5 383.8V384M391.5 383.8V384.8M392.5 383.8V384.6M398.5 383.8V386.8M399.5 383.8V387.4M400.5 383.8V387.8M401.5 383.8V386.7M413.5 383.8V386M414.5 383.8V387M415.5 383.8V385.3M416.5 383.8V387.7M417.5 383.8V388.5M418.5 383.8V384.7M419.5 383.8V384.5M423.5 383.8V393.6M424.5 383.8V394.3M445.5 383.8V388.5M446.5 383.8V393.5M447.5 383.8V391.6M448.5 383.8V386.6M449.5 383.8V389.6M458.5 383.8V389.8M459.5 383.8V391.2M460.5 383.8V394.4M461.5 383.8V394.5M462.5 383.8V392.8M463.5 383.8V392.7M464.5 383.8V391.2M480.5 383.8V385.8M481.5 383.8V385.4M482.5 383.8V386M490.5 383.8V384.7M491.5 383.8V384.1M514.5 383.8V384.9M515.5 383.8V385.4M516.5 383.8V386M517.5 383.8V385.9M518.5 383.8V385.1M519.5 383.8V384.8M520.5 383.8V385.6M521.5 383.8V384.7M522.5 383.8V384.8M523.5 383.8V384.7M524.5 383.8V388.3M525.5 383.8V387.8M526.5 383.8V387.6M527.5 383.8V386.8M528.5 383.8V384.7M529.5 383.8V385.6M530.5 383.8V388.3M531.5 383.8V386.2M532.5 383.8V392.4M533.5 383.8V391.7M534.5 383.8V385.5M560.5 383.8V385.9M561.5 383.8V387.3M562.5 383.8V387M563.5 383.8V386.7M564.5 383.8V384.6M565.5 383.8V389.7M566.5 383.8V385.6M567.5 383.8V391.6M576.5 383.8V387M577.5 383.8V385M578.5 383.8V389.2M579.5 383.8V387.9M580.5 383.8V387.3M581.5 383.8V384.5M582.5 383.8V401.5M583.5 383.8V402.7M584.5 383.8V389.1M585.5 383.8V388.9M586.5 383.8V385.2M595.5 383.8V389.8M596.5 383.8V389.3M597.5 383.8V390.3M628.5 383.8V397.7M629.5 383.8V396.6M652.5 383.8V391.3M653.5 383.8V392.3M654.5 383.8V395.2M655.5 383.8V394.8M656.5 383.8V392.8M657.5 383.8V391.9M658.5 383.8V387.8M659.5 383.8V386.1M660.5 383.8V390.6M661.5 383.8V389.6M662.5 383.8V396.2M663.5 383.8V398.6M664.5 383.8V398.5M665.5 383.8V393.2M666.5 383.8V388.5M667.5 383.8V385.7M668.5 383.8V391.7M669.5 383.8V392.5M670.5 383.8V394.6M671.5 383.8V386.4M672.5 383.8V385.4M683.5 383.8V387.7M684.5 383.8V388.2M685.5 383.8V384.6M686.5 383.8V387M687.5 383.8V384.8M688.5 383.8V385.2M689.5 383.8V388.1M690.5 383.8V385.2M691.5 383.8V388.7M692.5 383.8V388.2M693.5 383.8V384.6M694.5 383.8V386.1M695.5 383.8V386.8M696.5 383.8V388.6M697.5 383.8V388.3M698.5 383.8V385.3M699.5 383.8V388.4M700.5 383.8V389.5M701.5 383.8V389.8M702.5 383.8V388.2M703.5 383.8V386.5M704.5 383.8V410.2M705.5 383.8V412.3M706.5 383.8V391.6M707.5 383.8V414.2M708.5 383.8V409.3M709.5 383.8V412.9M710.5 383.8V386.5M711.5 383.8V397.8M712.5 383.8V396.3M713.5 383.8V386.5M714.5 383.8V387M715.5 383.8V387.9M716.5 383.8V389.9M717.5 383.8V385.6M718.5 383.8V388.4M719.5 383.8V386.6M720.5 383.8V389.3M721.5 383.8V392.3M722.5 383.8V392.7M723.5 383.8V392.5M724.5 383.8V397.7M725.5 383.8V395.2M726.5 383.8V395.2M727.5 383.8V397.7M728.5 383.8V396.2M729.5 383.8V398.8M730.5 383.8V396.3M731.5 383.8V394.3M732.5 383.8V392.5M733.5 383.8V393.4M734.5 383.8V386.2M745.5 383.8V390.3M746.5 383.8V390.8M747.5 383.8V392.1M748.5 383.8V394.1M749.5 383.8V394.5M750.5 383.8V390.3M751.5 383.8V389.2M752.5 383.8V388.3M753.5 383.8V390.9M754.5 383.8V390.7M755.5 383.8V386.2M756.5 383.8V386.4M757.5 383.8V385.7M758.5 383.8V389.2M759.5 383.8V387.8M760.5 383.8V397.6M761.5 383.8V394.4M762.5 383.8V385.5M763.5 383.8V389.6M764.5 383.8V392.5M765.5 383.8V393M766.5 383.8V393M767.5 383.8V391M768.5 383.8V391.2M769.5 383.8V388.7M770.5 383.8V391.2M771.5 383.8V393.4M772.5 383.8V392.1M773.5 383.8V395.8M774.5 383.8V387M775.5 383.8V397.2M776.5 383.8V388.6M777.5 383.8V398.1M778.5 383.8V397.4M779.5 383.8V398.2M780.5 383.8V392.8M781.5 383.8V386.3M782.5 383.8V391.4M783.5 383.8V386.3M784.5 383.8V384.2M785.5 383.8V385.8M786.5 383.8V386M787.5 383.8V386.7M788.5 383.8V386.3M789.5 383.8V386.8M790.5 383.8V387.2M791.5 383.8V386.6M792.5 383.8V384.6M793.5 383.8V384.3M794.5 383.8V385.6M799.5 383.8V387.1M800.5 383.8V389M801.5 383.8V385.1M802.5 383.8V388.2M810.5 383.8V391.2M811.5 383.8V391.8M812.5 383.8V395.8M813.5 383.8V395.3M814.5 383.8V388M815.5 383.8V387M816.5 383.8V387.1M817.5 383.8V395.8M818.5 383.8V394.6M819.5 383.8V386.3M820.5 383.8V386.9M821.5 383.8V390.8M826.5 383.8V385.3M827.5 383.8V390.9M828.5 383.8V391M829.5 383.8V385.9M830.5 383.8V388.1M845.5 383.8V392M846.5 383.8V394.2M847.5 383.8V394.2M848.5 383.8V396.2M849.5 383.8V396M850.5 383.8V399M851.5 383.8V398.3M852.5 383.8V389.3M853.5 383.8V399.3M854.5 383.8V403.9M855.5 383.8V398.1M856.5 383.8V389.5M857.5 383.8V399.3M858.5 383.8V388.1M859.5 383.8V396.3M860.5 383.8V395.6M861.5 383.8V392.4M868.5 383.8V385.5M869.5 383.8V386M870.5 383.8V384.7M871.5 383.8V386.6M872.5 383.8V386.9M873.5 383.8V386.6M874.5 383.8V385.9M875.5 383.8V385.1M876.5 383.8V395.2M877.5 383.8V396.8M893.5 383.8V384.7M894.5 383.8V385.8M895.5 383.8V384.3M896.5 383.8V385.4M897.5 383.8V385M898.5 383.8V388.8M899.5 383.8V389.9M900.5 383.8V393M901.5 383.8V391.5M902.5 383.8V386.6M903.5 383.8V393.5M904.5 383.8V395.4M905.5 383.8V395.8M906.5 383.8V386.9M907.5 383.8V397M908.5 383.8V386.9M909.5 383.8V398.4M910.5 383.8V387.2M911.5 383.8V398.2M912.5 383.8V396.5M913.5 383.8V393.9M914.5 383.8V392.6M915.5 383.8V393.1M916.5 383.8V392.3M917.5 383.8V391.8M918.5 383.8V390.3M919.5 383.8V389.2M927.5 383.8V386.3M928.5 383.8V386.9M929.5 383.8V388.2M930.5 383.8V385.1M931.5 383.8V389.3M932.5 383.8V388.2M933.5 383.8V388.5M934.5 383.8V387.4M935.5 383.8V386M936.5 383.8V390.1M937.5 383.8V391M938.5 383.8V387.9M939.5 383.8V388.2M945.5 383.8V387.7M946.5 383.8V388.9M947.5 383.8V389.6M948.5 383.8V388.5M949.5 383.8V389M950.5 383.8V387.8M951.5 383.8V386.7M952.5 383.8V391.9M953.5 383.8V386.9M954.5 383.8V392M955.5 383.8V387.8M956.5 383.8V387.2" stroke="#f29ca6" stroke-width="1" fill="none"/>
<polyline points="6.6,458.4 7.7,461.6 8.9,446.9 10,439 11.1,440.3 12.2,454.7 13.4,463.6 14.5,459.3 15.6,462.4 16.8,458.1 17.9,457.6 19,454.7 20.2,441.5 21.3,454.9 22.4,459.5 23.5,460.7 24.7,443 25.8,437.2 26.9,444.3 28.1,444.3 29.2,457 30.3,455 31.4,469 32.6,470.8 33.7,468.6 34.8,471.7 36,472.1 37.1,471.1 38.2,472 39.4,474.2 40.5,464.7 41.6,456.7 42.7,446.9 43.9,444.3 45,439.7 46.1,445.3 47.3,441.8 48.4,440.3 49.5,442.1 50.6,450.7 51.8,448.5 52.9,447.4 54,455.9 55.2,445 56.3,449.1 57.4,453.1 58.6,439.7 59.7,450.1 60.8,464.4 61.9,473 63.1,471.1 64.2,469.5 65.3,474.2 66.5,463.1 67.6,468 68.7,472.5 69.8,469.8 71,467.9 72.1,471.6 73.2,461.2 74.4,459.3 75.5,454.3 76.6,446.2 77.8,434.6 78.9,435.7 80,439 81.1,437.4 82.3,437 83.4,442.7 84.5,455.9 85.7,465.8 86.8,471.1 87.9,466 89,461.2 90.2,462.2 91.3,470.3 92.4,452.1 93.6,446.6 94.7,445.5 95.8,448 97,453.9 98.1,455 99.2,464.9 100.3,458.9 101.5,456.2 102.6,452.5 103.7,454 104.9,451.7 106,442.6 107.1,441.5 108.2,444.1 109.4,435.7 110.5,440.4 111.6,435 112.8,434.6 113.9,442.8 115,440.3 116.2,445.2 117.3,457.2 118.4,465.8 119.5,469.9 120.7,464.3 121.8,469 122.9,470 124.1,468.2 125.2,471.6 126.3,470.4 127.4,465.9 128.6,445 129.7,443.3 130.8,448.4 132,443.5 133.1,456.8 134.2,467.6 135.4,472.1 136.5,474.2 137.6,467.8 138.7,463.8 139.9,470.4 141,469.9 142.1,459.3 143.3,459.7 144.4,467.3 145.5,467.3 146.6,465.8 147.8,469.2 148.9,466.3 150,462.1 151.2,465.9 152.3,469.3 153.4,470.5 154.6,456.9 155.7,454.2 156.8,443.6 157.9,455.4 159.1,442.1 160.2,443.9 161.3,459.9 162.5,470.5 163.6,469.5 164.7,456.2 165.8,462.5 167,462.4 168.1,441.5 169.2,447.9 170.4,459.2 171.5,471.1 172.6,472.3 173.8,472.7 174.9,473.3 176,467.8 177.1,459.2 178.3,461.5 179.4,461.1 180.5,459.5 181.7,468.1 182.8,470.6 183.9,468.1 185,462.6 186.2,464.2 187.3,463.7 188.4,459.8 189.6,456.1 190.7,453.8 191.8,461.6 193,459.8 194.1,451 195.2,442.8 196.3,445.2 197.5,438.4 198.6,445.5 199.7,440.8 200.9,442.2 202,441.5 203.1,440 204.2,440 205.4,438.6 206.5,443.6 207.6,443.4 208.8,438.9 209.9,437.9 211,444 212.2,448.2 213.3,454 214.4,455.8 215.5,452.3 216.7,463.3 217.8,447.6 218.9,452.1 220.1,447.5 221.2,435.3 222.3,441.6 223.4,447.6 224.6,448.6 225.7,444.3 226.8,438.8 228,448.9 229.1,456.3 230.2,450.3 231.4,441.1 232.5,460.2 233.6,458.1 234.7,469.3 235.9,457.1 237,464.5 238.1,460.1 239.3,464.5 240.4,466 241.5,453.1 242.6,462.5 243.8,462.6 244.9,454.3 246,443 247.2,456.2 248.3,456 249.4,468.3 250.6,472.2 251.7,465.5 252.8,468.7 253.9,469 255.1,467.9 256.2,473.6 257.3,465 258.5,460.2 259.6,463.6 260.7,454 261.8,434.6 263,437.6 264.1,442.5 265.2,434.6 266.4,434.6 267.5,434.6 268.6,434.6 269.8,436.9 270.9,444 272,446.6 273.1,455.7 274.3,474.2 275.4,466.9 276.5,472.3 277.7,471.8 278.8,465.6 279.9,470.8 281,470.6 282.2,466.6 283.3,472.7 284.4,457.9 285.6,455 286.7,441.6 287.8,457.8 289,449.4 290.1,462.1 291.2,456.7 292.3,455.3 293.5,461.4 294.6,468 295.7,464.4 296.9,437.2 298,438.9 299.1,447.8 300.2,439.9 301.4,436.4 302.5,442.3 303.6,454.6 304.8,450.4 305.9,457.2 307,468.2 308.2,470.9 309.3,452.8 310.4,444.9 311.5,448.8 312.7,454 313.8,454.4 314.9,456.8 316.1,462.9 317.2,469.5 318.3,469.4 319.4,474.1 320.6,467.4 321.7,472.2 322.8,466.2 324,473.8 325.1,461.9 326.2,457.1 327.4,458.3 328.5,438.6 329.6,462.4 330.7,456.7 331.9,444.5 333,443.1 334.1,453 335.3,452.2 336.4,467.8 337.5,469.4 338.6,471.9 339.8,470.6 340.9,466.9 342,471.4 343.2,467.4 344.3,450.3 345.4,466.7 346.6,463.9 347.7,467.5 348.8,468.8 349.9,470.4 351.1,469.7 352.2,469.2 353.3,470.8 354.5,466.6 355.6,456.8 356.7,465.5 357.8,451.1 359,453.8 360.1,443 361.2,445 362.4,443.8 363.5,447.1 364.6,460.1 365.8,469.8 366.9,472.4 368,469.7 369.1,464.7 370.3,455.3 371.4,470.3 372.5,468.5 373.7,457.9 374.8,465.5 375.9,462.1 377,451.5 378.2,441 379.3,441.5 380.4,439.2 381.6,446.6 382.7,441.4 383.8,438.3 385,438.3 386.1,436.8 387.2,449 388.3,455.7 389.5,449.2 390.6,455.1 391.7,459.2 392.9,451.9 394,447.6 395.1,453.3 396.2,449.3 397.4,444.8 398.5,451.7 399.6,467.1 400.8,464.7 401.9,465.2 403,460 404.2,471.9 405.3,473.3 406.4,468.7 407.5,470.2 408.7,459.2 409.8,457.5 410.9,445.4 412.1,443.7 413.2,453 414.3,454.3 415.4,445.9 416.6,438.8 417.7,449.7 418.8,456.8 420,466 421.1,459.4 422.2,455.4 423.4,459.8 424.5,463.8 425.6,451.8 426.7,454.1 427.9,446.1 429,447 430.1,450.8 431.3,447.5 432.4,452.6 433.5,443.6 434.6,434.6 435.8,451.5 436.9,459.5 438,462 439.2,450.3 440.3,452.4 441.4,435.3 442.6,445.2 443.7,451.1 444.8,453.9 445.9,459.6 447.1,466.4 448.2,450.8 449.3,456.7 450.5,468.9 451.6,465.5 452.7,458.4 453.8,448.9 455,454.5 456.1,461.8 457.2,466.9 458.4,464.2 459.5,470.6 460.6,469.5 461.8,465.2 462.9,469.1 464,467 465.1,465.2 466.3,443.2 467.4,442.2 468.5,445 469.7,442.5 470.8,447.2 471.9,437.2 473,442.8 474.2,437.4 475.3,434.6 476.4,439.3 477.6,436.5 478.7,437.8 479.8,448.3 481,438.3 482.1,440.9 483.2,436.1 484.3,436.4 485.5,445.5 486.6,441.7 487.7,436.1 488.9,438.7 490,438.7 491.1,434.6 492.2,439.6 493.4,438.8 494.5,436.2 495.6,441.3 496.8,436.8 497.9,438.1 499,437.5 500.1,448.1 501.3,449.6 502.4,451.4 503.5,457.7 504.7,452.9 505.8,462.7 506.9,471.5 508.1,467.9 509.2,474.2 510.3,468 511.4,470.8 512.6,469 513.7,469.4 514.8,463.5 516,457.1 517.1,458.1 518.2,442 519.3,457.3 520.5,469.4 521.6,458.3 522.7,455.4 523.9,468.3 525,452.7 526.1,451.5 527.3,445.4 528.4,456 529.5,449 530.6,456.1 531.8,460.6 532.9,467.2 534,465.4 535.2,470.6 536.3,465.7 537.4,459.5 538.5,461.3 539.7,452.7 540.8,446.4 541.9,452.7 543.1,457.9 544.2,454.1 545.3,442.5 546.5,435.1 547.6,437.8 548.7,437.2 549.8,443.3 551,445.3 552.1,444.2 553.2,456.1 554.4,458.3 555.5,460.4 556.6,467.4 557.7,468.2 558.9,457.9 560,466.8 561.1,469.2 562.3,464.8 563.4,467.7 564.5,466.9 565.7,461.3 566.8,466.7 567.9,466.7 569,465.8 570.2,460.5 571.3,458.3 572.4,451.7 573.6,445.6 574.7,455.3 575.8,463.8 576.9,461.9 578.1,451.8 579.2,447.2 580.3,451.2 581.5,455.7 582.6,474.2 583.7,466.2 584.9,461.9 586,453.8 587.1,448.9 588.2,450.7 589.4,457.5 590.5,457.3 591.6,461.4 592.8,460.1 593.9,466 595,458 596.1,460.3 597.3,463.4 598.4,461.7 599.5,463.5 600.7,442.1 601.8,445.8 602.9,445.6 604.1,452 605.2,447.5 606.3,444.6 607.4,449.9 608.6,446.3 609.7,458.4 610.8,452.3 612,453.1 613.1,463.3 614.2,453.1 615.3,453.9 616.5,463.5 617.6,456.6 618.7,445.5 619.9,454.4 621,451 622.1,461.9 623.3,451.8 624.4,469 625.5,474.2 626.6,467.2 627.8,469.5 628.9,460.4 630,461.2 631.2,447.5 632.3,451.9 633.4,436.9 634.5,440.3 635.7,441.9 636.8,453.4 637.9,453.1 639.1,450.5 640.2,456.6 641.3,456.8 642.5,462.8 643.6,468.5 644.7,465.8 645.8,443.2 647,458.7 648.1,451.6 649.2,452.9 650.4,451.8 651.5,458.8 652.6,450.7 653.7,473.1 654.9,470.5 656,469 657.1,464 658.3,470.9 659.4,468.3 660.5,469.1 661.7,466.7 662.8,468.7 663.9,467.8 665,467.6 666.2,472.5 667.3,469.9 668.4,469.2 669.6,468.6 670.7,462.2 671.8,460.2 672.9,449.6 674.1,454.5 675.2,457.2 676.3,462.2 677.5,464.5 678.6,449.3 679.7,444.8 680.9,441.4 682,440.6 683.1,443.7 684.2,451.2 685.4,450.7 686.5,453.5 687.6,467.8 688.8,454.7 689.9,456.8 691,466.3 692.1,449.9 693.3,447.7 694.4,461.5 695.5,468.9 696.7,469.9 697.8,469.5 698.9,466.8 700.1,467.4 701.2,464.5 702.3,472.7 703.4,464.4 704.6,468.7 705.7,455.1 706.8,441.3 708,445.3 709.1,437.7 710.2,446 711.3,445 712.5,443.6 713.6,446.7 714.7,453.1 715.9,450.1 717,460.5 718.1,469.8 719.3,459.5 720.4,460.2 721.5,452 722.6,444.7 723.8,446.1 724.9,457.3 726,443.8 727.2,453.7 728.3,449.4 729.4,467.1 730.5,469.7 731.7,467.6 732.8,459.2 733.9,457.9 735.1,461.6 736.2,451.6 737.3,464.3 738.5,463.7 739.6,458.9 740.7,470.6 741.8,468.3 743,473.5 744.1,472.7 745.2,460.8 746.4,468.1 747.5,468.2 748.6,459.9 749.7,453.8 750.9,449.9 752,445.4 753.1,454.6 754.3,465.9 755.4,457.4 756.5,456 757.7,462.9 758.8,442.5 759.9,435.2 761,438.9 762.2,434.6 763.3,439.6 764.4,439.4 765.6,439.1 766.7,436.8 767.8,434.6 768.9,447.9 770.1,460.4 771.2,470.4 772.3,472.6 773.5,471.5 774.6,471.7 775.7,472.2 776.9,471.8 778,470.7 779.1,470.8 780.2,458.4 781.4,452.3 782.5,462.9 783.6,473.6 784.8,450.6 785.9,450.1 787,451.3 788.1,436.9 789.3,449.5 790.4,456.7 791.5,468.4 792.7,466.9 793.8,463.7 794.9,465.2 796.1,473.5 797.2,468.6 798.3,467.2 799.4,467.7 800.6,461.8 801.7,465.3 802.8,457.5 804,442.8 805.1,450.3 806.2,455.1 807.3,443.6 808.5,446.1 809.6,434.9 810.7,441.4 811.9,465.8 813,457.3 814.1,468.8 815.3,456.2 816.4,460.1 817.5,471.9 818.6,463.3 819.8,468.5 820.9,465.4 822,454.6 823.2,457.3 824.3,467.9 825.4,473.9 826.5,473.1 827.7,472.3 828.8,472.1 829.9,466.5 831.1,469.3 832.2,457.5 833.3,448.1 834.5,435.4 835.6,451.6 836.7,445.8 837.8,444 839,438.9 840.1,434.6 841.2,436.9 842.4,436.8 843.5,438.8 844.6,442.3 845.7,459.5 846.9,462.4 848,468.6 849.1,468.6 850.3,468.6 851.4,474.2 852.5,474.1 853.7,471.1 854.8,470.9 855.9,471.6 857,474.2 858.2,459.8 859.3,450.5 860.4,440.7 861.6,440 862.7,437.6 863.8,447.9 864.9,450.9 866.1,457.3 867.2,456 868.3,463.2 869.5,460.4 870.6,455.5 871.7,443.1 872.9,448.4 874,446.7 875.1,451.9 876.2,456.6 877.4,455.5 878.5,460.9 879.6,445.9 880.8,444.5 881.9,450.9 883,452.6 884.1,442.2 885.3,439.6 886.4,445.5 887.5,445.3 888.7,447.3 889.8,458.5 890.9,454.3 892.1,461.9 893.2,455.5 894.3,463.4 895.4,464.8 896.6,465.2 897.7,474.2 898.8,464.9 900,455 901.1,454.4 902.2,456 903.3,450.4 904.5,452.8 905.6,452 906.7,452.2 907.9,448 909,443 910.1,467.1 911.3,449.4 912.4,454 913.5,461.4 914.6,459 915.8,474.1 916.9,461.5 918,451.5 919.2,452.5 920.3,457 921.4,447 922.5,443.9 923.7,444.6 924.8,439.7 925.9,434.6 927.1,450 928.2,471.3 929.3,454.8 930.5,459.4 931.6,457.3 932.7,459 933.8,462.6 935,465.4 936.1,458.7 937.2,447.4 938.4,458 939.5,442.6 940.6,439.5 941.7,440.8 942.9,434.6 944,441.6 945.1,439.4 946.3,449.4 947.4,459.6 948.5,454.9 949.7,468.2 950.8,474 951.9,467 953,466.1 954.2,462.5 955.3,473.9 956.4,457.8" fill="none" stroke="#5dd5ba" stroke-width="0.95"/>
<polyline points="6.6,458.1 7.7,455.4 8.9,451.4 10,438.5 11.1,440.7 12.2,452.3 13.4,463.8 14.5,459.8 15.6,466.2 16.8,458.8 17.9,456.4 19,453.4 20.2,441.4 21.3,456.5 22.4,458.4 23.5,469.8 24.7,441.5 25.8,439.9 26.9,440.7 28.1,447.6 29.2,454.9 30.3,460.7 31.4,465.9 32.6,471.4 33.7,467 34.8,474.2 36,463.9 37.1,470.1 38.2,467 39.4,470.6 40.5,454.7 41.6,439.7 42.7,439.5 43.9,434.6 45,439.3 46.1,442.5 47.3,442.3 48.4,451.6 49.5,453.4 50.6,463.1 51.8,444.3 52.9,451.2 54,451.6 55.2,441.9 56.3,452.7 57.4,456.7 58.6,441 59.7,455.9 60.8,466.8 61.9,472.5 63.1,469.7 64.2,469.1 65.3,468.6 66.5,464.8 67.6,470.3 68.7,467.5 69.8,473.5 71,458 72.1,468.4 73.2,454.9 74.4,446.2 75.5,444.8 76.6,440.8 77.8,436.9 78.9,435.8 80,444.2 81.1,445.4 82.3,437.9 83.4,437.3 84.5,459.1 85.7,474 86.8,473.6 87.9,462.1 89,453.9 90.2,467.5 91.3,460.1 92.4,438.8 93.6,434.6 94.7,445 95.8,448.5 97,448.9 98.1,460.6 99.2,467 100.3,464.6 101.5,457.4 102.6,453.1 103.7,437.2 104.9,450.2 106,451.8 107.1,436.5 108.2,435.3 109.4,437 110.5,438.2 111.6,435.7 112.8,435.8 113.9,440.5 115,449.1 116.2,461.2 117.3,466.7 118.4,469.3 119.5,469.7 120.7,469.3 121.8,468.7 122.9,471.4 124.1,464.9 125.2,465.9 126.3,468.7 127.4,457.5 128.6,437.2 129.7,438.6 130.8,444.1 132,447.2 133.1,460 134.2,472.8 135.4,471.2 136.5,474.2 137.6,474.2 138.7,458.8 139.9,467.9 141,463.6 142.1,435.6 143.3,455.6 144.4,462.4 145.5,472 146.6,465 147.8,468.1 148.9,468.3 150,462.6 151.2,466.2 152.3,472.1 153.4,465.7 154.6,456.1 155.7,455.2 156.8,452.1 157.9,445.7 159.1,435.6 160.2,445.3 161.3,465.6 162.5,471.7 163.6,469.9 164.7,462 165.8,455.1 167,457.8 168.1,440.9 169.2,445.5 170.4,457.5 171.5,473.1 172.6,472.3 173.8,470.7 174.9,466.4 176,462.9 177.1,452.3 178.3,457.6 179.4,449.4 180.5,453.1 181.7,467.4 182.8,470.4 183.9,463.8 185,459.9 186.2,460.1 187.3,463.3 188.4,460 189.6,446.6 190.7,449 191.8,458 193,467.8 194.1,444.1 195.2,439.2 196.3,437.8 197.5,437.2 198.6,439.2 199.7,434.6 200.9,446.5 202,440.9 203.1,444 204.2,441.4 205.4,444.1 206.5,443.6 207.6,442.9 208.8,441.7 209.9,439.7 211,442.8 212.2,449.7 213.3,463.7 214.4,465.5 215.5,460.5 216.7,474.2 217.8,446.9 218.9,446.3 220.1,442.9 221.2,440.5 222.3,444 223.4,436.9 224.6,456.1 225.7,443.5 226.8,445.2 228,461.8 229.1,459 230.2,451.6 231.4,445.3 232.5,453.8 233.6,458.8 234.7,470.7 235.9,458.6 237,461 238.1,459 239.3,462.5 240.4,466.2 241.5,447.1 242.6,458.1 243.8,460.9 244.9,451.5 246,437.3 247.2,453.6 248.3,457 249.4,463.3 250.6,468.9 251.7,466.9 252.8,465.5 253.9,466.7 255.1,466.9 256.2,470.8 257.3,467.9 258.5,454.3 259.6,443.7 260.7,434.6 261.8,441.1 263,438.2 264.1,446 265.2,434.9 266.4,434.9 267.5,438.9 268.6,440.2 269.8,445.6 270.9,453 272,458.8 273.1,465.2 274.3,472.7 275.4,472 276.5,470.5 277.7,467.6 278.8,469.3 279.9,472.2 281,473.2 282.2,459.3 283.3,469.1 284.4,444.1 285.6,444.8 286.7,435.2 287.8,457.6 289,453.3 290.1,452.1 291.2,456.8 292.3,462.7 293.5,456.6 294.6,457.1 295.7,462.2 296.9,435.7 298,441.5 299.1,438.9 300.2,434.6 301.4,435.5 302.5,434.6 303.6,466 304.8,460 305.9,458.8 307,465.7 308.2,466.7 309.3,447.5 310.4,440.7 311.5,446.4 312.7,454.3 313.8,452.6 314.9,455.2 316.1,470.4 317.2,468.2 318.3,471.6 319.4,472.3 320.6,471.9 321.7,473.4 322.8,454.5 324,462.9 325.1,440.4 326.2,456.6 327.4,452.2 328.5,434.6 329.6,462.7 330.7,458 331.9,437.7 333,444.5 334.1,454 335.3,454.4 336.4,469.5 337.5,472 338.6,466.1 339.8,469.4 340.9,474.2 342,471.5 343.2,465.9 344.3,443.3 345.4,465.1 346.6,463.6 347.7,472 348.8,468.8 349.9,467.8 351.1,464.9 352.2,471.2 353.3,468.7 354.5,459.3 355.6,454.8 356.7,457.1 357.8,441.8 359,442.5 360.1,443.7 361.2,439.1 362.4,446 363.5,452.8 364.6,468.8 365.8,466.6 366.9,470.4 368,466.6 369.1,471.4 370.3,447.6 371.4,474.2 372.5,470.3 373.7,461.4 374.8,463.8 375.9,457.2 377,456.2 378.2,439.2 379.3,441.7 380.4,437.6 381.6,443 382.7,437.7 383.8,445.4 385,447.1 386.1,436.1 387.2,453.6 388.3,453 389.5,451.1 390.6,468.4 391.7,467.7 392.9,452.1 394,438.8 395.1,442.4 396.2,449.1 397.4,451.3 398.5,446.1 399.6,464.8 400.8,463.8 401.9,458.9 403,457.5 404.2,473.6 405.3,474.1 406.4,471.4 407.5,470 408.7,461 409.8,463 410.9,435.9 412.1,437.4 413.2,446 414.3,454.1 415.4,446.1 416.6,448 417.7,462.2 418.8,459.9 420,463.5 421.1,464.1 422.2,456.4 423.4,462.6 424.5,460.4 425.6,448 426.7,441.4 427.9,450 429,444.5 430.1,456.6 431.3,455 432.4,456.9 433.5,447.8 434.6,439.8 435.8,452.8 436.9,458.5 438,455.9 439.2,454.1 440.3,450.4 441.4,440 442.6,442.9 443.7,455.8 444.8,453 445.9,467.3 447.1,470.1 448.2,449 449.3,453.9 450.5,464.4 451.6,462.1 452.7,447.8 453.8,445.8 455,462.7 456.1,471.8 457.2,465.2 458.4,467.5 459.5,466.3 460.6,466.3 461.8,464 462.9,465.7 464,459 465.1,455.7 466.3,439.6 467.4,442.3 468.5,447.5 469.7,444.1 470.8,446.6 471.9,444.9 473,446 474.2,434.6 475.3,437.4 476.4,442.1 477.6,437.7 478.7,441.7 479.8,457 481,444 482.1,444.7 483.2,438.4 484.3,440.1 485.5,446.8 486.6,438.8 487.7,447.9 488.9,438.5 490,441 491.1,436.9 492.2,438.8 493.4,438.1 494.5,434.6 495.6,440.8 496.8,441.7 497.9,441.3 499,449.2 500.1,463.8 501.3,459 502.4,450.5 503.5,462.2 504.7,459.5 505.8,455.3 506.9,473.8 508.1,466.1 509.2,470.4 510.3,470.3 511.4,470.6 512.6,466.8 513.7,461.8 514.8,458.3 516,457 517.1,439.9 518.2,437.8 519.3,453.5 520.5,471.1 521.6,451.3 522.7,461.4 523.9,462.7 525,451 526.1,440.4 527.3,448.6 528.4,448.2 529.5,446.6 530.6,462.7 531.8,471.3 532.9,471 534,470.3 535.2,473.8 536.3,467.6 537.4,450.6 538.5,453 539.7,439.1 540.8,438.6 541.9,451.9 543.1,454.2 544.2,466.8 545.3,438.9 546.5,434.6 547.6,434.6 548.7,437.2 549.8,442.6 551,447 552.1,444.5 553.2,467.3 554.4,464 555.5,470.3 556.6,468.3 557.7,469.3 558.9,456.6 560,471.9 561.1,466 562.3,455.4 563.4,467.6 564.5,469.6 565.7,464.9 566.8,468.1 567.9,462.2 569,462.7 570.2,459.5 571.3,454.2 572.4,440.2 573.6,442.3 574.7,449.3 575.8,469.5 576.9,466.7 578.1,455.4 579.2,448.6 580.3,455.8 581.5,457.7 582.6,474.2 583.7,461.4 584.9,455.6 586,448.2 587.1,448.2 588.2,446.1 589.4,450.5 590.5,458 591.6,470 592.8,471.4 593.9,469.1 595,458.4 596.1,452.3 597.3,452.9 598.4,450.3 599.5,457.2 600.7,438.7 601.8,443.4 602.9,445.2 604.1,447.1 605.2,445.7 606.3,444.1 607.4,455.7 608.6,445.1 609.7,461.5 610.8,449.1 612,463.5 613.1,470.1 614.2,460.1 615.3,453.7 616.5,462.4 617.6,454.9 618.7,440.4 619.9,445.8 621,461.1 622.1,454.7 623.3,451.5 624.4,470.8 625.5,472.6 626.6,470.8 627.8,468.5 628.9,459.4 630,457.9 631.2,438.9 632.3,441.6 633.4,444.1 634.5,446 635.7,448.5 636.8,456.3 637.9,466.4 639.1,454.3 640.2,463.8 641.3,460.3 642.5,455.8 643.6,466.2 644.7,455.6 645.8,435.8 647,454 648.1,453.6 649.2,454.8 650.4,448.4 651.5,460 652.6,445.9 653.7,474.2 654.9,467.1 656,466.3 657.1,471.3 658.3,463.7 659.4,472.8 660.5,464.4 661.7,464.8 662.8,469.4 663.9,470.5 665,469.3 666.2,471.6 667.3,465.1 668.4,474.2 669.6,462.4 670.7,458 671.8,449.2 672.9,446.5 674.1,453.8 675.2,440.6 676.3,459.8 677.5,469 678.6,457.2 679.7,446.4 680.9,440.9 682,442 683.1,443.8 684.2,455.7 685.4,460.4 686.5,463.8 687.6,466.5 688.8,458.7 689.9,453.4 691,461.3 692.1,448.3 693.3,446.2 694.4,457.2 695.5,471.7 696.7,466.8 697.8,472.6 698.9,468.7 700.1,469.9 701.2,471.9 702.3,471.2 703.4,463.4 704.6,464.2 705.7,448.9 706.8,434.6 708,438.7 709.1,438.2 710.2,445.8 711.3,447.8 712.5,456.5 713.6,459.8 714.7,467.1 715.9,463 717,455.7 718.1,463.5 719.3,452.1 720.4,443.4 721.5,456.4 722.6,442.9 723.8,447.1 724.9,455.4 726,444.7 727.2,450.7 728.3,452.3 729.4,469.5 730.5,467.4 731.7,468.7 732.8,458.2 733.9,460.2 735.1,459.5 736.2,444.2 737.3,464.7 738.5,469 739.6,458.6 740.7,467.2 741.8,463 743,472.2 744.1,472.5 745.2,460 746.4,460.4 747.5,468.9 748.6,460.9 749.7,457.8 750.9,448.2 752,450.5 753.1,453.5 754.3,467.7 755.4,466.7 756.5,456.6 757.7,461.1 758.8,444.4 759.9,435.3 761,436.3 762.2,439.2 763.3,436.2 764.4,437.8 765.6,438.6 766.7,436.6 767.8,437.9 768.9,453.7 770.1,468.1 771.2,470.8 772.3,468.9 773.5,465.4 774.6,468.4 775.7,465.2 776.9,474.2 778,452.5 779.1,465.6 780.2,452 781.4,458.1 782.5,465.9 783.6,471 784.8,455.2 785.9,445 787,450.2 788.1,436.1 789.3,455.9 790.4,461 791.5,467.8 792.7,468.2 793.8,462.5 794.9,474.2 796.1,468.1 797.2,464.4 798.3,471.4 799.4,466.4 800.6,457.4 801.7,461.1 802.8,440.9 804,440.7 805.1,446.8 806.2,458.6 807.3,444.7 808.5,445.2 809.6,434.6 810.7,443 811.9,467.4 813,456.3 814.1,469.3 815.3,464.8 816.4,464 817.5,461.6 818.6,465.4 819.8,464.3 820.9,459.8 822,460.4 823.2,452.4 824.3,465.3 825.4,474.2 826.5,467 827.7,459.2 828.8,473.4 829.9,469.7 831.1,469.6 832.2,437.7 833.3,439.5 834.5,442.1 835.6,446.1 836.7,440.2 837.8,440.2 839,442.6 840.1,434.6 841.2,442.4 842.4,435.9 843.5,447.8 844.6,447.4 845.7,465.7 846.9,472.5 848,463.4 849.1,471.2 850.3,468.1 851.4,468.9 852.5,471.3 853.7,462.7 854.8,465.8 855.9,473.3 857,474.2 858.2,458.9 859.3,439.9 860.4,434.6 861.6,438.7 862.7,434.6 863.8,442.1 864.9,455.9 866.1,471 867.2,471 868.3,465.1 869.5,454.8 870.6,444.1 871.7,440.2 872.9,438.4 874,448 875.1,457.6 876.2,467.8 877.4,465.4 878.5,464.2 879.6,450.1 880.8,438.5 881.9,456.3 883,451.2 884.1,434.9 885.3,438.2 886.4,450 887.5,448.5 888.7,450.5 889.8,459.1 890.9,466.3 892.1,470.6 893.2,457 894.3,466.4 895.4,456.7 896.6,460.6 897.7,473.2 898.8,460.7 900,454.7 901.1,450.2 902.2,454.1 903.3,443.9 904.5,447.5 905.6,450.7 906.7,450.7 907.9,463.9 909,444 910.1,464.2 911.3,452 912.4,450.3 913.5,454.6 914.6,457.5 915.8,473.3 916.9,459.5 918,449.5 919.2,451.3 920.3,454.5 921.4,442 922.5,447.7 923.7,451.1 924.8,436.3 925.9,439.5 927.1,456.9 928.2,474.2 929.3,457.3 930.5,460.6 931.6,454.4 932.7,464.2 933.8,452.9 935,455.6 936.1,444.2 937.2,453.3 938.4,461.8 939.5,449.7 940.6,441.1 941.7,446.7 942.9,434.6 944,442.4 945.1,434.7 946.3,456.7 947.4,467.3 948.5,467.1 949.7,471.8 950.8,474.2 951.9,464.3 953,463.3 954.2,459.4 955.3,463.2 956.4,442.6" fill="none" stroke="#f5bc48" stroke-width="0.95"/>
</g>
</svg>

<svg class="a" style="left:10px;top:12px" width="10" height="10" viewBox="0 0 10 10"><path d="M5 0.8L6.2 3.6L9.2 3.9L6.9 5.9L7.6 8.9L5 7.3L2.4 8.9L3.1 5.9L0.8 3.9L3.8 3.6Z" fill="none" stroke="#a4a9b6" stroke-width="0.9" stroke-linejoin="round"/></svg>
<div class="a" style="left:23px;top:13px;font-size:9.6px;font-weight:bold;color:#1d2030;transform:scaleX(0.8188);transform-origin:0 0">XRPUSDT_SPOT</div>
<div class="a" style="left:93px;top:13px;font-size:9.6px;font-weight:bold;color:#1d2030;transform:scaleX(0.8385);transform-origin:0 0">Binance</div>
<svg class="a" style="left:134px;top:13px" width="10" height="10" viewBox="0 0 10 10"><circle cx="4.3" cy="4.3" r="3.4" fill="none" stroke="#596070" stroke-width="1.1"/><path d="M6.8 6.8L9.2 9.2" stroke="#596070" stroke-width="1.2" stroke-linecap="round"/></svg>

<div class="a tb" style="left:160.5px;transform:scaleX(0.9013);transform-origin:0 0">1m</div>
<div class="a tb" style="left:179px;transform:scaleX(0.9543);transform-origin:0 0">5m</div>
<div class="a tb" style="left:197.5px;transform:scaleX(0.9143);transform-origin:0 0">15m</div>
<div class="a tb" style="left:220.5px;transform:scaleX(0.9684);transform-origin:0 0">30m</div>
<div class="a tb" style="left:244.5px;transform:scaleX(0.8226);transform-origin:0 0">1H</div>
<div class="a" style="left:261px;top:14px;width:1px;height:7px;background:#b8bdcc"></div>
<div class="a tb" style="left:267.5px;color:#4a5de6;transform:scaleX(0.9871);transform-origin:0 0">4H</div>
<svg class="a" style="left:287px;top:16px" width="7" height="5" viewBox="0 0 7 5"><path d="M0.5 0.8L3.5 3.8L6.5 0.8" fill="none" stroke="#a9aebd" stroke-width="0.9"/></svg>

<svg class="a" style="left:307px;top:13px" width="10" height="10" viewBox="0 0 10 10"><path d="M1.2 9.5V6.2M3.6 9.5V4.8M6 9.5V6.6M8.4 9.5V4.4" stroke="#8a93b2" stroke-width="1.1"/><path d="M1 4.4L3.6 2.2L6 3.8L8.6 0.9" fill="none" stroke="#8a93b2" stroke-width="1"/><path d="M6.8 0.6H9V2.8" fill="none" stroke="#8a93b2" stroke-width="1"/></svg>
<div class="a tb" style="left:319px;transform:scaleX(0.9833);transform-origin:0 0">Indicators</div>
<svg class="a" style="left:371.5px;top:13px" width="10" height="10" viewBox="0 0 10 10"><path d="M3.6 1.1Q5 0.2 6.4 1.1Q8 1.1 8.5 2.6Q9.7 3.6 9.2 5Q9.7 6.4 8.5 7.4Q8 8.9 6.4 8.9Q5 9.8 3.6 8.9Q2 8.9 1.5 7.4Q0.3 6.4 0.8 5Q0.3 3.6 1.5 2.6Q2 1.1 3.6 1.1Z" fill="none" stroke="#8a93b2" stroke-width="1"/><circle cx="5" cy="5" r="1.6" fill="none" stroke="#8a93b2" stroke-width="1"/></svg>
<div class="a tb" style="left:383px;transform:scaleX(0.9872);transform-origin:0 0">Setting</div>
<svg class="a" style="left:431px;top:13px" width="10" height="9.5" viewBox="0 0 10 9.5"><g fill="none" stroke="#7c8499" stroke-width="1.1"><rect x="0.6" y="0.6" width="3.6" height="3.5" rx="0.9"/><rect x="5.8" y="0.6" width="3.6" height="3.5" rx="0.9"/><rect x="0.6" y="5.4" width="3.6" height="3.5" rx="0.9"/><rect x="5.8" y="5.4" width="3.6" height="3.5" rx="0.9"/></g></svg>

<svg class="a" style="left:460px;top:13.5px" width="10" height="8" viewBox="0 0 10 8"><path d="M1.6 7A3.6 3.6 0 0 1 2.4 2.2A3.4 3.4 0 0 1 8.2 2.8A2.2 2.2 0 0 1 8.6 7" fill="none" stroke="#a4a9b6" stroke-width="1"/><circle cx="5.1" cy="5.6" r="1.5" fill="none" stroke="#a4a9b6" stroke-width="1"/></svg>
<div class="a tb" style="left:477.5px;transform:scaleX(0.9497);transform-origin:0 0">uname</div>
<svg class="a" style="left:511px;top:16px" width="7" height="5" viewBox="0 0 7 5"><path d="M0.5 0.8L3.5 3.8L6.5 0.8" fill="none" stroke="#a9aebd" stroke-width="0.9"/></svg>
<div class="a tb" style="left:529.5px;transform:scaleX(0.9440);transform-origin:0 0">Tick:</div>
<div class="a tb" style="left:555px;transform:scaleX(0.6041);transform-origin:0 0">1</div>
<svg class="a" style="left:562px;top:16px" width="7" height="5" viewBox="0 0 7 5"><path d="M0.5 0.8L3.5 3.8L6.5 0.8" fill="none" stroke="#a9aebd" stroke-width="0.9"/></svg>
<svg class="a" style="left:580px;top:13px" width="10" height="9" viewBox="0 0 10 9"><path d="M2.5 0.5V8.5" stroke="#5e6578" stroke-width="1"/><ellipse cx="2.5" cy="5.3" rx="1.8" ry="2.3" fill="none" stroke="#5e6578" stroke-width="1"/><rect x="5.6" y="1.8" width="3.2" height="6.2" rx="1.6" fill="none" stroke="#5e6578" stroke-width="1"/></svg>
<div class="a tb" style="left:591.5px;transform:scaleX(0.9302);transform-origin:0 0">Ask-Bid Cluster</div>
<svg class="a" style="left:655px;top:16px" width="7" height="5" viewBox="0 0 7 5"><path d="M0.5 0.8L3.5 3.8L6.5 0.8" fill="none" stroke="#a9aebd" stroke-width="0.9"/></svg>

<div class="a" style="left:711px;top:13.5px;width:76px;height:7px;background:linear-gradient(90deg,#2e1d56 0%,#2f3f74 25%,#1f9a87 50%,#8fd13c 75%,#e6f20d 100%)"></div>
<div class="a" style="left:706.3px;top:13.6px;width:7px;height:7px;border-radius:50%;background:#3a1a5e;box-shadow:0 0 0 0.8px #fff"></div>
<div class="a" style="left:784.6px;top:13.6px;width:7px;height:7px;border-radius:50%;background:#3a1a5e;box-shadow:0 0 0 0.8px #fff"></div>

<div class="a" style="left:942px;top:6.5px;width:80px;height:20.5px;border-radius:10.5px;background:linear-gradient(90deg,#4a60ec 0%,#4d8cf0 55%,#4cc4f2 100%)"></div>
<div class="a" style="left:943.5px;top:11px;width:12.5px;height:12.5px;border-radius:50%;background:#e3e6fb"></div>
<svg class="a" style="left:945.5px;top:13.5px" width="8.5" height="7.5" viewBox="0 0 9 8"><path d="M1 2.6L2.6 0.8H6.4L8 2.6L4.5 7.2Z" fill="#4b63ea"/><path d="M2.6 3.2L4.5 5L6.4 3.2" fill="none" stroke="#e3e6fb" stroke-width="0.8"/></svg>
<div class="a" style="left:959.5px;top:9.6px;font-size:6.9px;font-weight:bold;color:#fff;transform:scaleX(0.9025);transform-origin:0 0">Claim Now</div>
<div class="a" style="left:959.5px;top:19px;font-size:6.9px;font-weight:bold;color:#fff;transform:scaleX(0.8858);transform-origin:0 0">7-Day Free VIP Trial</div>

<div class="a lg" style="left:10.5px;transform:scaleX(0.8816);transform-origin:0 0">&lt;CoinAnk&gt; Candle</div>
<div class="a lg" style="left:79.5px;transform:scaleX(0.8152);transform-origin:0 0">Binance 4h XRPUSDT H:</div>
<div class="a lg rd" style="left:158.5px;transform:scaleX(0.8404);transform-origin:0 0">2.3951</div>
<div class="a lg" style="left:184.5px;transform:scaleX(0.7821);transform-origin:0 0">O:</div>
<div class="a lg rd" style="left:192.2px;transform:scaleX(0.8412);transform-origin:0 0">2.328</div>
<div class="a lg" style="left:214.5px;transform:scaleX(0.7111);transform-origin:0 0">L:</div>
<div class="a lg rd" style="left:219.5px;transform:scaleX(0.8594);transform-origin:0 0">2.3193</div>
<div class="a lg" style="left:246px;transform:scaleX(0.7680);transform-origin:0 0">C:</div>
<div class="a lg rd" style="left:252.5px;transform:scaleX(0.8442);transform-origin:0 0">2.3241</div>
<div class="a lg" style="left:276.7px;transform:scaleX(0.8702);transform-origin:0 0">Chg:</div>
<div class="a lg rd" style="left:292.3px;transform:scaleX(0.8614);transform-origin:0 0">-0.17%(-0.0039)</div>
<div class="a lg" style="left:347px;transform:scaleX(0.8785);transform-origin:0 0">Ampl:</div>
<div class="a lg rd" style="left:366.5px;transform:scaleX(0.8451);transform-origin:0 0">3.26%</div>

<svg class="a" style="left:9px;top:43px" width="20" height="15" viewBox="0 0 20 15"><rect x="1.5" y="1.5" width="16" height="12.5" rx="2.5" fill="none" stroke="#9ea4b2" stroke-width="1"/><path d="M6.8 8.6L9.4 6.2L12 8.6" fill="none" stroke="#7a8090" stroke-width="1"/><path d="M11.8 5.5H17.5M13.3 4V7" fill="none" stroke="#b4b9c4" stroke-width="0.8"/></svg>
<div class="a" style="left:27.3px;top:45.3px;font-size:7.6px;color:#a9afba;transform:scaleX(0.9297);transform-origin:0 0">2.6975</div>
<div class="a" style="left:675.4px;top:234.5px;font-size:7.6px;color:#aab0bc;transform:scaleX(0.9648);transform-origin:0 0">1.1172→</div>

<svg class="a" style="left:971px;top:31px" width="13" height="12" viewBox="0 0 13 12"><rect x="0.5" y="0.5" width="12" height="11" rx="2.5" fill="#fff" stroke="#aeb3bf" stroke-width="1"/><path d="M3.5 4.9V3.9A1.3 1.3 0 0 1 4.8 2.6H8.2A1.3 1.3 0 0 1 9.5 3.9V4.9M3.5 7.1V8.1A1.3 1.3 0 0 0 4.8 9.4H8.2A1.3 1.3 0 0 0 9.5 8.1V7.1" fill="none" stroke="#9aa0ad" stroke-width="1"/></svg>

<svg width="1024" height="498" style="position:absolute;left:0;top:0">
<path d="M66 31V478" stroke="#b5bcc8" stroke-width="1.6" stroke-dasharray="3.4 3.03" stroke-dashoffset="1.17"/>
<path d="M7 64.5H983" stroke="#a6aebb" stroke-width="1" stroke-dasharray="3.2 3.05" stroke-dashoffset="1.05"/>
<path d="M7 202.5H983" stroke="#80d6b4" stroke-width="1" stroke-dasharray="3.2 3.05" stroke-dashoffset="1.05"/>
</svg>

<div class="a ax" style="top:69.3px;transform:scaleX(0.9023);transform-origin:0 0">2.5000</div>
<div class="a ax" style="top:129.0px;transform:scaleX(0.9023);transform-origin:0 0">2.0000</div>
<div class="a ax" style="top:188.6px;transform:scaleX(0.9023);transform-origin:0 0">1.5000</div>
<div class="a" style="left:983px;top:59px;width:39px;height:11px;background:#000"></div>
<div class="a" style="left:991.3px;top:60.3px;font-size:7.6px;color:#fff;transform:scaleX(0.9383);transform-origin:0 0">2.5701</div>
<div class="a" style="left:983px;top:196.5px;width:39px;height:24px;background:#3dbd89"></div>
<div class="a" style="left:983px;top:208px;width:39px;height:1px;background:#9ddfc2"></div>
<div class="a" style="left:991.6px;top:198px;font-size:7.5px;color:#fff;transform:scaleX(0.9628);transform-origin:0 0">1.4185</div>
<div class="a" style="left:988.4px;top:210.4px;font-size:7.5px;color:#fff;transform:scaleX(0.9554);transform-origin:0 0">02:16:13</div>

<div class="a ax" style="top:253.0px;transform:scaleX(0.9023);transform-origin:0 0">563.38</div>
<div class="a ax" style="top:300.2px;transform:scaleX(0.9422);transform-origin:0 0">-511.79</div>
<div class="a ax" style="top:310.8px;transform:scaleX(0.8973);transform-origin:0 0">440.78M</div>
<div class="a ax" style="top:354.1px;transform:scaleX(0.9303);transform-origin:0 0">-1.718</div>
<div class="a ax" style="top:364.9px;transform:scaleX(0.8959);transform-origin:0 0">0.024253</div>
<div class="a ax" style="top:414.5px;transform:scaleX(0.9108);transform-origin:0 0">-0.048245</div>
<div class="a ax" style="top:424.0px;transform:scaleX(0.9805);transform-origin:0 0">28.82</div>
<div class="a ax" style="top:468.6px;transform:scaleX(0.9215);transform-origin:0 0">-107.79</div>
<div class="a" style="left:1021px;top:309px;width:1px;height:55px;background:#555a66"></div>
<div class="a" style="left:997px;top:482.4px;font-size:8px;color:#5b7cf0;transform:scaleX(0.9104);transform-origin:0 0">AUTO</div>
<div class="a" style="left:1021px;top:263.5px;width:8px;height:20px;background:#fff;border-radius:4px;box-shadow:0 0 2px rgba(0,0,0,.2)"></div>
<svg class="a" style="left:1021.5px;top:270px" width="3" height="6" viewBox="0 0 3 6"><path d="M2.8 0.6L0.8 3L2.8 5.4" fill="none" stroke="#33363e" stroke-width="1"/></svg>

<div class="a lg" style="left:11px;top:257px;transform:scaleX(0.8641);transform-origin:0 0">&lt;CoinAnk&gt; CCI</div>
<div class="a lg" style="left:67.3px;top:257px;transform:scaleX(0.8433);transform-origin:0 0">(20)</div>
<div class="a lg" style="left:82.5px;top:257px;color:#3ec6a6;transform:scaleX(0.8626);transform-origin:0 0">-210.1256</div>
<div class="a lg" style="left:11px;top:314.3px;transform:scaleX(0.8722);transform-origin:0 0">&lt;CoinAnk&gt; OBV</div>
<div class="a lg" style="left:73.4px;top:314.3px;color:#4a64e0;transform:scaleX(0.8895);transform-origin:0 0">-428.05M</div>
<div class="a lg" style="left:107.4px;top:314.3px;color:#f0b04a;transform:scaleX(0.8801);transform-origin:0 0">MAOBV:-340.97M</div>
<div class="a lg" style="left:11px;top:368.7px;transform:scaleX(0.8709);transform-origin:0 0">&lt;CoinAnk&gt; Funding Rates</div>
<div class="a lg rd" style="left:106.2px;top:368.7px;transform:scaleX(0.8781);transform-origin:0 0">-0.002544</div>
<div class="a lg" style="left:11.3px;top:427.6px;transform:scaleX(0.8694);transform-origin:0 0">&lt;CoinAnk&gt; WR</div>
<div class="a lg" style="left:70.1px;top:427.6px;color:#3ec6a6;transform:scaleX(0.8574);transform-origin:0 0">-87.96</div>
<div class="a lg" style="left:93.2px;top:427.6px;color:#f0b030;transform:scaleX(0.8738);transform-origin:0 0">-86.82</div>

<div class="a" style="left:7px;top:261px;width:14.5px;height:22px;background:#fff;border-radius:4px;box-shadow:0 0 2px rgba(0,0,0,.16)"></div>
<svg class="a" style="left:11.5px;top:268px" width="6" height="8.5" viewBox="0 0 6 8.5"><path d="M5 0.8L1.2 4.25L5 7.7" fill="none" stroke="#33363e" stroke-width="1"/></svg>

<svg class="a" style="left:18px;top:451px" width="24" height="22" viewBox="0 0 24 22"><g fill="none" stroke="rgba(145,150,172,.78)" stroke-width="1.35"><rect x="3" y="2.6" width="4.4" height="12.6" rx="2.2"/><rect x="7.2" y="6.6" width="5" height="12.8" rx="2.5"/><rect x="12.4" y="2.6" width="4" height="12.4" rx="2"/><rect x="16.8" y="6.2" width="4" height="11.8" rx="2"/></g></svg>
<div class="a" style="left:43.5px;top:456.3px;font-size:12.5px;font-weight:bold;color:rgba(128,134,156,.8);transform:scaleX(1.1092);transform-origin:0 0">CoinAnk</div>

<div class="a tx" style="left:-2px;transform:scaleX(0.9955);transform-origin:0 0">10-26</div>
<div class="a tx" style="left:91.5px;transform:scaleX(1.0871);transform-origin:0 0">11-9</div>
<div class="a tx" style="left:186px;transform:scaleX(1.0251);transform-origin:0 0">11-23</div>
<div class="a tx" style="left:283px;transform:scaleX(1.0301);transform-origin:0 0">12-7</div>
<div class="a tx" style="left:375.5px;transform:scaleX(0.9955);transform-origin:0 0">12-21</div>
<div class="a tx" style="left:474.5px;transform:scaleX(1.0991);transform-origin:0 0">1-4</div>
<div class="a tx" style="left:568px;transform:scaleX(1.0470);transform-origin:0 0">1-18</div>
<div class="a tx" style="left:664.5px;transform:scaleX(1.0991);transform-origin:0 0">2-1</div>
<div class="a tx" style="left:757.5px;transform:scaleX(1.0301);transform-origin:0 0">2-15</div>
<div class="a tx" style="left:854px;transform:scaleX(1.0991);transform-origin:0 0">3-1</div>
<div class="a tx" style="left:947.5px;transform:scaleX(1.0188);transform-origin:0 0">3-15</div>
<div class="a" style="left:0;top:478px;width:7.3px;height:20px;background:#fff"></div>
<div class="a" style="left:5px;top:478px;width:2px;height:15px;background:#e3e6ef"></div>
<div class="a" style="left:28.5px;top:478px;width:74.5px;height:14.5px;background:#000"></div>
<div class="a" style="left:31.3px;top:481px;font-size:8.6px;color:#fff;transform:scaleX(1.0399);transform-origin:0 0">2025-11-03 17:00</div>
</body></html>
